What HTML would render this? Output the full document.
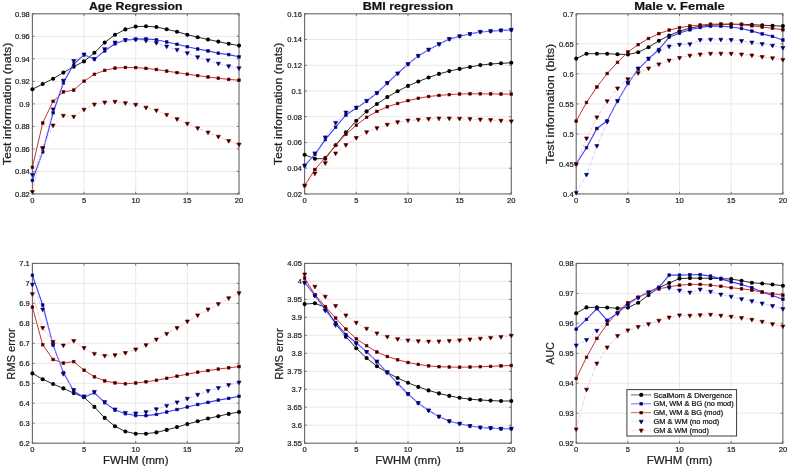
<!DOCTYPE html><html><head><meta charset="utf-8"><title>fig</title><style>html,body{margin:0;padding:0;background:#fff}svg{display:block;will-change:transform}text{font-family:"Liberation Sans",sans-serif;stroke:#222;stroke-width:0.22px}</style></head><body>
<svg width="789" height="468" viewBox="0 0 789 468">
<rect width="789" height="468" fill="#fff"/>
<g>
<line x1="84.0" y1="13.8" x2="84.0" y2="193.95" stroke="#e6e6e6" stroke-width="0.9"/>
<line x1="135.7" y1="13.8" x2="135.7" y2="193.95" stroke="#e6e6e6" stroke-width="0.9"/>
<line x1="187.3" y1="13.8" x2="187.3" y2="193.95" stroke="#e6e6e6" stroke-width="0.9"/>
<line x1="32.4" y1="36.3" x2="239.0" y2="36.3" stroke="#e6e6e6" stroke-width="0.9"/>
<line x1="32.4" y1="58.8" x2="239.0" y2="58.8" stroke="#e6e6e6" stroke-width="0.9"/>
<line x1="32.4" y1="81.4" x2="239.0" y2="81.4" stroke="#e6e6e6" stroke-width="0.9"/>
<line x1="32.4" y1="103.9" x2="239.0" y2="103.9" stroke="#e6e6e6" stroke-width="0.9"/>
<line x1="32.4" y1="126.4" x2="239.0" y2="126.4" stroke="#e6e6e6" stroke-width="0.9"/>
<line x1="32.4" y1="148.9" x2="239.0" y2="148.9" stroke="#e6e6e6" stroke-width="0.9"/>
<line x1="32.4" y1="171.4" x2="239.0" y2="171.4" stroke="#e6e6e6" stroke-width="0.9"/>
<line x1="32.4" y1="193.95" x2="32.4" y2="191.75" stroke="#666666" stroke-width="0.9"/>
<line x1="32.4" y1="13.8" x2="32.4" y2="16.0" stroke="#666666" stroke-width="0.9"/>
<line x1="84.0" y1="193.95" x2="84.0" y2="191.75" stroke="#666666" stroke-width="0.9"/>
<line x1="84.0" y1="13.8" x2="84.0" y2="16.0" stroke="#666666" stroke-width="0.9"/>
<line x1="135.7" y1="193.95" x2="135.7" y2="191.75" stroke="#666666" stroke-width="0.9"/>
<line x1="135.7" y1="13.8" x2="135.7" y2="16.0" stroke="#666666" stroke-width="0.9"/>
<line x1="187.3" y1="193.95" x2="187.3" y2="191.75" stroke="#666666" stroke-width="0.9"/>
<line x1="187.3" y1="13.8" x2="187.3" y2="16.0" stroke="#666666" stroke-width="0.9"/>
<line x1="239.0" y1="193.95" x2="239.0" y2="191.75" stroke="#666666" stroke-width="0.9"/>
<line x1="239.0" y1="13.8" x2="239.0" y2="16.0" stroke="#666666" stroke-width="0.9"/>
<line x1="32.4" y1="13.8" x2="34.6" y2="13.8" stroke="#666666" stroke-width="0.9"/>
<line x1="239.0" y1="13.8" x2="236.8" y2="13.8" stroke="#666666" stroke-width="0.9"/>
<line x1="32.4" y1="36.3" x2="34.6" y2="36.3" stroke="#666666" stroke-width="0.9"/>
<line x1="239.0" y1="36.3" x2="236.8" y2="36.3" stroke="#666666" stroke-width="0.9"/>
<line x1="32.4" y1="58.8" x2="34.6" y2="58.8" stroke="#666666" stroke-width="0.9"/>
<line x1="239.0" y1="58.8" x2="236.8" y2="58.8" stroke="#666666" stroke-width="0.9"/>
<line x1="32.4" y1="81.4" x2="34.6" y2="81.4" stroke="#666666" stroke-width="0.9"/>
<line x1="239.0" y1="81.4" x2="236.8" y2="81.4" stroke="#666666" stroke-width="0.9"/>
<line x1="32.4" y1="103.9" x2="34.6" y2="103.9" stroke="#666666" stroke-width="0.9"/>
<line x1="239.0" y1="103.9" x2="236.8" y2="103.9" stroke="#666666" stroke-width="0.9"/>
<line x1="32.4" y1="126.4" x2="34.6" y2="126.4" stroke="#666666" stroke-width="0.9"/>
<line x1="239.0" y1="126.4" x2="236.8" y2="126.4" stroke="#666666" stroke-width="0.9"/>
<line x1="32.4" y1="148.9" x2="34.6" y2="148.9" stroke="#666666" stroke-width="0.9"/>
<line x1="239.0" y1="148.9" x2="236.8" y2="148.9" stroke="#666666" stroke-width="0.9"/>
<line x1="32.4" y1="171.4" x2="34.6" y2="171.4" stroke="#666666" stroke-width="0.9"/>
<line x1="239.0" y1="171.4" x2="236.8" y2="171.4" stroke="#666666" stroke-width="0.9"/>
<line x1="32.4" y1="193.9" x2="34.6" y2="193.9" stroke="#666666" stroke-width="0.9"/>
<line x1="239.0" y1="193.9" x2="236.8" y2="193.9" stroke="#666666" stroke-width="0.9"/>
<rect x="32.4" y="13.8" width="206.60" height="180.15" fill="none" stroke="#666666" stroke-width="1.1"/>
<polyline points="32.4,89.3 42.7,84.0 53.1,78.7 63.4,72.6 73.7,66.7 84.0,61.4 94.4,52.8 104.7,42.6 115.0,34.7 125.4,29.4 135.7,26.6 146.0,26.3 156.4,27.0 166.7,29.3 177.0,31.7 187.3,34.7 197.7,37.2 208.0,39.5 218.3,41.6 228.7,43.8 239.0,45.6" fill="none" stroke="#2b2b2b" stroke-width="1.0" stroke-linejoin="round"/>
<circle cx="32.4" cy="89.3" r="2.05" fill="#000"/>
<circle cx="42.7" cy="84.0" r="2.05" fill="#000"/>
<circle cx="53.1" cy="78.7" r="2.05" fill="#000"/>
<circle cx="63.4" cy="72.6" r="2.05" fill="#000"/>
<circle cx="73.7" cy="66.7" r="2.05" fill="#000"/>
<circle cx="84.0" cy="61.4" r="2.05" fill="#000"/>
<circle cx="94.4" cy="52.8" r="2.05" fill="#000"/>
<circle cx="104.7" cy="42.6" r="2.05" fill="#000"/>
<circle cx="115.0" cy="34.7" r="2.05" fill="#000"/>
<circle cx="125.4" cy="29.4" r="2.05" fill="#000"/>
<circle cx="135.7" cy="26.6" r="2.05" fill="#000"/>
<circle cx="146.0" cy="26.3" r="2.05" fill="#000"/>
<circle cx="156.4" cy="27.0" r="2.05" fill="#000"/>
<circle cx="166.7" cy="29.3" r="2.05" fill="#000"/>
<circle cx="177.0" cy="31.7" r="2.05" fill="#000"/>
<circle cx="187.3" cy="34.7" r="2.05" fill="#000"/>
<circle cx="197.7" cy="37.2" r="2.05" fill="#000"/>
<circle cx="208.0" cy="39.5" r="2.05" fill="#000"/>
<circle cx="218.3" cy="41.6" r="2.05" fill="#000"/>
<circle cx="228.7" cy="43.8" r="2.05" fill="#000"/>
<circle cx="239.0" cy="45.6" r="2.05" fill="#000"/>
<polyline points="32.4,180.4 42.7,151.9 53.1,112.8 63.4,82.9 73.7,64.0 84.0,54.8 94.4,59.1 104.7,50.9 115.0,43.8 125.4,40.1 135.7,39.1 146.0,38.9 156.4,39.8 166.7,42.0 177.0,44.3 187.3,46.7 197.7,49.0 208.0,50.9 218.3,53.2 228.7,54.6 239.0,56.8" fill="none" stroke="#3a3aff" stroke-width="1.1" stroke-linejoin="round"/>
<rect x="31.1" y="179.1" width="2.6" height="2.6" fill="#000" stroke="#1010c0" stroke-width="0.7"/>
<rect x="41.4" y="150.6" width="2.6" height="2.6" fill="#000" stroke="#1010c0" stroke-width="0.7"/>
<rect x="51.8" y="111.5" width="2.6" height="2.6" fill="#000" stroke="#1010c0" stroke-width="0.7"/>
<rect x="62.1" y="81.6" width="2.6" height="2.6" fill="#000" stroke="#1010c0" stroke-width="0.7"/>
<rect x="72.4" y="62.7" width="2.6" height="2.6" fill="#000" stroke="#1010c0" stroke-width="0.7"/>
<rect x="82.8" y="53.5" width="2.6" height="2.6" fill="#000" stroke="#1010c0" stroke-width="0.7"/>
<rect x="93.1" y="57.8" width="2.6" height="2.6" fill="#000" stroke="#1010c0" stroke-width="0.7"/>
<rect x="103.4" y="49.6" width="2.6" height="2.6" fill="#000" stroke="#1010c0" stroke-width="0.7"/>
<rect x="113.7" y="42.5" width="2.6" height="2.6" fill="#000" stroke="#1010c0" stroke-width="0.7"/>
<rect x="124.1" y="38.8" width="2.6" height="2.6" fill="#000" stroke="#1010c0" stroke-width="0.7"/>
<rect x="134.4" y="37.8" width="2.6" height="2.6" fill="#000" stroke="#1010c0" stroke-width="0.7"/>
<rect x="144.7" y="37.6" width="2.6" height="2.6" fill="#000" stroke="#1010c0" stroke-width="0.7"/>
<rect x="155.1" y="38.5" width="2.6" height="2.6" fill="#000" stroke="#1010c0" stroke-width="0.7"/>
<rect x="165.4" y="40.7" width="2.6" height="2.6" fill="#000" stroke="#1010c0" stroke-width="0.7"/>
<rect x="175.7" y="43.0" width="2.6" height="2.6" fill="#000" stroke="#1010c0" stroke-width="0.7"/>
<rect x="186.0" y="45.4" width="2.6" height="2.6" fill="#000" stroke="#1010c0" stroke-width="0.7"/>
<rect x="196.4" y="47.7" width="2.6" height="2.6" fill="#000" stroke="#1010c0" stroke-width="0.7"/>
<rect x="206.7" y="49.6" width="2.6" height="2.6" fill="#000" stroke="#1010c0" stroke-width="0.7"/>
<rect x="217.0" y="51.9" width="2.6" height="2.6" fill="#000" stroke="#1010c0" stroke-width="0.7"/>
<rect x="227.4" y="53.3" width="2.6" height="2.6" fill="#000" stroke="#1010c0" stroke-width="0.7"/>
<rect x="237.7" y="55.5" width="2.6" height="2.6" fill="#000" stroke="#1010c0" stroke-width="0.7"/>
<polyline points="32.4,167.3 42.7,123.0 53.1,101.3 63.4,91.9 73.7,90.1 84.0,81.2 94.4,74.3 104.7,70.4 115.0,68.1 125.4,67.5 135.7,67.6 146.0,68.4 156.4,69.5 166.7,71.1 177.0,72.6 187.3,74.2 197.7,75.6 208.0,77.0 218.3,78.2 228.7,79.4 239.0,80.2" fill="none" stroke="#c83232" stroke-width="1.0" stroke-linejoin="round"/>
<rect x="31.1" y="166.0" width="2.6" height="2.6" fill="#000" stroke="#900000" stroke-width="0.7"/>
<rect x="41.4" y="121.7" width="2.6" height="2.6" fill="#000" stroke="#900000" stroke-width="0.7"/>
<rect x="51.8" y="100.0" width="2.6" height="2.6" fill="#000" stroke="#900000" stroke-width="0.7"/>
<rect x="62.1" y="90.6" width="2.6" height="2.6" fill="#000" stroke="#900000" stroke-width="0.7"/>
<rect x="72.4" y="88.8" width="2.6" height="2.6" fill="#000" stroke="#900000" stroke-width="0.7"/>
<rect x="82.8" y="79.9" width="2.6" height="2.6" fill="#000" stroke="#900000" stroke-width="0.7"/>
<rect x="93.1" y="73.0" width="2.6" height="2.6" fill="#000" stroke="#900000" stroke-width="0.7"/>
<rect x="103.4" y="69.1" width="2.6" height="2.6" fill="#000" stroke="#900000" stroke-width="0.7"/>
<rect x="113.7" y="66.8" width="2.6" height="2.6" fill="#000" stroke="#900000" stroke-width="0.7"/>
<rect x="124.1" y="66.2" width="2.6" height="2.6" fill="#000" stroke="#900000" stroke-width="0.7"/>
<rect x="134.4" y="66.3" width="2.6" height="2.6" fill="#000" stroke="#900000" stroke-width="0.7"/>
<rect x="144.7" y="67.1" width="2.6" height="2.6" fill="#000" stroke="#900000" stroke-width="0.7"/>
<rect x="155.1" y="68.2" width="2.6" height="2.6" fill="#000" stroke="#900000" stroke-width="0.7"/>
<rect x="165.4" y="69.8" width="2.6" height="2.6" fill="#000" stroke="#900000" stroke-width="0.7"/>
<rect x="175.7" y="71.3" width="2.6" height="2.6" fill="#000" stroke="#900000" stroke-width="0.7"/>
<rect x="186.0" y="72.9" width="2.6" height="2.6" fill="#000" stroke="#900000" stroke-width="0.7"/>
<rect x="196.4" y="74.3" width="2.6" height="2.6" fill="#000" stroke="#900000" stroke-width="0.7"/>
<rect x="206.7" y="75.7" width="2.6" height="2.6" fill="#000" stroke="#900000" stroke-width="0.7"/>
<rect x="217.0" y="76.9" width="2.6" height="2.6" fill="#000" stroke="#900000" stroke-width="0.7"/>
<rect x="227.4" y="78.1" width="2.6" height="2.6" fill="#000" stroke="#900000" stroke-width="0.7"/>
<rect x="237.7" y="78.9" width="2.6" height="2.6" fill="#000" stroke="#900000" stroke-width="0.7"/>
<polyline points="32.4,174.9 42.7,148.5 53.1,109.5 63.4,80.7 73.7,61.0 84.0,54.5 94.4,59.1 104.7,49.2 115.0,42.6 125.4,40.1 135.7,39.8 146.0,40.8 156.4,43.0 166.7,46.6 177.0,49.9 187.3,53.2 197.7,57.3 208.0,60.4 218.3,63.7 228.7,66.3 239.0,68.3" fill="none" stroke="#b8b8ff" stroke-width="0.75" stroke-dasharray="3 1.2 0.8 1.2" stroke-linejoin="round"/>
<path d="M30.3 173.4H34.4L32.4 177.1Z" fill="#000" stroke="#1010c0" stroke-width="0.7" stroke-linejoin="round"/>
<path d="M40.7 147.0H44.8L42.7 150.7Z" fill="#000" stroke="#1010c0" stroke-width="0.7" stroke-linejoin="round"/>
<path d="M51.0 108.0H55.1L53.1 111.7Z" fill="#000" stroke="#1010c0" stroke-width="0.7" stroke-linejoin="round"/>
<path d="M61.3 79.2H65.4L63.4 82.9Z" fill="#000" stroke="#1010c0" stroke-width="0.7" stroke-linejoin="round"/>
<path d="M71.7 59.5H75.8L73.7 63.2Z" fill="#000" stroke="#1010c0" stroke-width="0.7" stroke-linejoin="round"/>
<path d="M82.0 53.0H86.1L84.0 56.7Z" fill="#000" stroke="#1010c0" stroke-width="0.7" stroke-linejoin="round"/>
<path d="M92.3 57.6H96.4L94.4 61.3Z" fill="#000" stroke="#1010c0" stroke-width="0.7" stroke-linejoin="round"/>
<path d="M102.7 47.7H106.8L104.7 51.4Z" fill="#000" stroke="#1010c0" stroke-width="0.7" stroke-linejoin="round"/>
<path d="M113.0 41.1H117.1L115.0 44.8Z" fill="#000" stroke="#1010c0" stroke-width="0.7" stroke-linejoin="round"/>
<path d="M123.3 38.6H127.4L125.4 42.3Z" fill="#000" stroke="#1010c0" stroke-width="0.7" stroke-linejoin="round"/>
<path d="M133.6 38.3H137.8L135.7 42.0Z" fill="#000" stroke="#1010c0" stroke-width="0.7" stroke-linejoin="round"/>
<path d="M144.0 39.3H148.1L146.0 43.0Z" fill="#000" stroke="#1010c0" stroke-width="0.7" stroke-linejoin="round"/>
<path d="M154.3 41.5H158.4L156.4 45.2Z" fill="#000" stroke="#1010c0" stroke-width="0.7" stroke-linejoin="round"/>
<path d="M164.6 45.1H168.7L166.7 48.8Z" fill="#000" stroke="#1010c0" stroke-width="0.7" stroke-linejoin="round"/>
<path d="M175.0 48.4H179.1L177.0 52.1Z" fill="#000" stroke="#1010c0" stroke-width="0.7" stroke-linejoin="round"/>
<path d="M185.3 51.7H189.4L187.3 55.4Z" fill="#000" stroke="#1010c0" stroke-width="0.7" stroke-linejoin="round"/>
<path d="M195.6 55.8H199.7L197.7 59.5Z" fill="#000" stroke="#1010c0" stroke-width="0.7" stroke-linejoin="round"/>
<path d="M206.0 58.9H210.1L208.0 62.6Z" fill="#000" stroke="#1010c0" stroke-width="0.7" stroke-linejoin="round"/>
<path d="M216.3 62.2H220.4L218.3 65.9Z" fill="#000" stroke="#1010c0" stroke-width="0.7" stroke-linejoin="round"/>
<path d="M226.6 64.8H230.7L228.7 68.5Z" fill="#000" stroke="#1010c0" stroke-width="0.7" stroke-linejoin="round"/>
<path d="M236.9 66.8H241.1L239.0 70.5Z" fill="#000" stroke="#1010c0" stroke-width="0.7" stroke-linejoin="round"/>
<polyline points="32.4,192.0 42.7,148.1 53.1,125.6 63.4,115.8 73.7,116.8 84.0,109.7 94.4,104.6 104.7,102.5 115.0,101.8 125.4,103.2 135.7,104.8 146.0,107.7 156.4,110.6 166.7,114.9 177.0,119.2 187.3,123.8 197.7,128.3 208.0,132.6 218.3,136.8 228.7,141.0 239.0,144.6" fill="none" stroke="#efb0b0" stroke-width="0.75" stroke-dasharray="3 1.2 0.8 1.2" stroke-linejoin="round"/>
<path d="M30.3 190.5H34.4L32.4 194.2Z" fill="#000" stroke="#900000" stroke-width="0.7" stroke-linejoin="round"/>
<path d="M40.7 146.6H44.8L42.7 150.3Z" fill="#000" stroke="#900000" stroke-width="0.7" stroke-linejoin="round"/>
<path d="M51.0 124.1H55.1L53.1 127.8Z" fill="#000" stroke="#900000" stroke-width="0.7" stroke-linejoin="round"/>
<path d="M61.3 114.3H65.4L63.4 118.0Z" fill="#000" stroke="#900000" stroke-width="0.7" stroke-linejoin="round"/>
<path d="M71.7 115.3H75.8L73.7 119.0Z" fill="#000" stroke="#900000" stroke-width="0.7" stroke-linejoin="round"/>
<path d="M82.0 108.2H86.1L84.0 111.9Z" fill="#000" stroke="#900000" stroke-width="0.7" stroke-linejoin="round"/>
<path d="M92.3 103.1H96.4L94.4 106.8Z" fill="#000" stroke="#900000" stroke-width="0.7" stroke-linejoin="round"/>
<path d="M102.7 101.0H106.8L104.7 104.7Z" fill="#000" stroke="#900000" stroke-width="0.7" stroke-linejoin="round"/>
<path d="M113.0 100.3H117.1L115.0 104.0Z" fill="#000" stroke="#900000" stroke-width="0.7" stroke-linejoin="round"/>
<path d="M123.3 101.7H127.4L125.4 105.4Z" fill="#000" stroke="#900000" stroke-width="0.7" stroke-linejoin="round"/>
<path d="M133.6 103.3H137.8L135.7 107.0Z" fill="#000" stroke="#900000" stroke-width="0.7" stroke-linejoin="round"/>
<path d="M144.0 106.2H148.1L146.0 109.9Z" fill="#000" stroke="#900000" stroke-width="0.7" stroke-linejoin="round"/>
<path d="M154.3 109.1H158.4L156.4 112.8Z" fill="#000" stroke="#900000" stroke-width="0.7" stroke-linejoin="round"/>
<path d="M164.6 113.4H168.7L166.7 117.1Z" fill="#000" stroke="#900000" stroke-width="0.7" stroke-linejoin="round"/>
<path d="M175.0 117.7H179.1L177.0 121.4Z" fill="#000" stroke="#900000" stroke-width="0.7" stroke-linejoin="round"/>
<path d="M185.3 122.3H189.4L187.3 126.0Z" fill="#000" stroke="#900000" stroke-width="0.7" stroke-linejoin="round"/>
<path d="M195.6 126.8H199.7L197.7 130.5Z" fill="#000" stroke="#900000" stroke-width="0.7" stroke-linejoin="round"/>
<path d="M206.0 131.1H210.1L208.0 134.8Z" fill="#000" stroke="#900000" stroke-width="0.7" stroke-linejoin="round"/>
<path d="M216.3 135.3H220.4L218.3 139.0Z" fill="#000" stroke="#900000" stroke-width="0.7" stroke-linejoin="round"/>
<path d="M226.6 139.5H230.7L228.7 143.2Z" fill="#000" stroke="#900000" stroke-width="0.7" stroke-linejoin="round"/>
<path d="M236.9 143.1H241.1L239.0 146.8Z" fill="#000" stroke="#900000" stroke-width="0.7" stroke-linejoin="round"/>
<text x="29.8" y="16.7" font-size="7.6" text-anchor="end" fill="#1c1c1c" textLength="14.7" lengthAdjust="spacingAndGlyphs">0.98</text>
<text x="29.8" y="39.2" font-size="7.6" text-anchor="end" fill="#1c1c1c" textLength="14.7" lengthAdjust="spacingAndGlyphs">0.96</text>
<text x="29.8" y="61.7" font-size="7.6" text-anchor="end" fill="#1c1c1c" textLength="14.7" lengthAdjust="spacingAndGlyphs">0.94</text>
<text x="29.8" y="84.3" font-size="7.6" text-anchor="end" fill="#1c1c1c" textLength="14.7" lengthAdjust="spacingAndGlyphs">0.92</text>
<text x="29.8" y="106.8" font-size="7.6" text-anchor="end" fill="#1c1c1c" textLength="10.5" lengthAdjust="spacingAndGlyphs">0.9</text>
<text x="29.8" y="129.3" font-size="7.6" text-anchor="end" fill="#1c1c1c" textLength="14.7" lengthAdjust="spacingAndGlyphs">0.88</text>
<text x="29.8" y="151.8" font-size="7.6" text-anchor="end" fill="#1c1c1c" textLength="14.7" lengthAdjust="spacingAndGlyphs">0.86</text>
<text x="29.8" y="174.3" font-size="7.6" text-anchor="end" fill="#1c1c1c" textLength="14.7" lengthAdjust="spacingAndGlyphs">0.84</text>
<text x="29.8" y="196.8" font-size="7.6" text-anchor="end" fill="#1c1c1c" textLength="14.7" lengthAdjust="spacingAndGlyphs">0.82</text>
<text x="32.4" y="203.1" font-size="7.6" text-anchor="middle" fill="#1c1c1c" textLength="4.2" lengthAdjust="spacingAndGlyphs">0</text>
<text x="84.0" y="203.1" font-size="7.6" text-anchor="middle" fill="#1c1c1c" textLength="4.2" lengthAdjust="spacingAndGlyphs">5</text>
<text x="135.7" y="203.1" font-size="7.6" text-anchor="middle" fill="#1c1c1c" textLength="8.4" lengthAdjust="spacingAndGlyphs">10</text>
<text x="187.3" y="203.1" font-size="7.6" text-anchor="middle" fill="#1c1c1c" textLength="8.4" lengthAdjust="spacingAndGlyphs">15</text>
<text x="239.0" y="203.1" font-size="7.6" text-anchor="middle" fill="#1c1c1c" textLength="8.4" lengthAdjust="spacingAndGlyphs">20</text>
<text transform="translate(10.5,103.9) rotate(-90)" font-size="11.2" text-anchor="middle" fill="#1c1c1c" textLength="122.6" lengthAdjust="spacingAndGlyphs">Test information (nats)</text>
<text x="135.7" y="9.9" font-size="10.6" font-weight="bold" text-anchor="middle" fill="#111" textLength="93.4" lengthAdjust="spacingAndGlyphs">Age Regression</text>
</g>
<g>
<line x1="356.3" y1="13.8" x2="356.3" y2="193.95" stroke="#e6e6e6" stroke-width="0.9"/>
<line x1="408.0" y1="13.8" x2="408.0" y2="193.95" stroke="#e6e6e6" stroke-width="0.9"/>
<line x1="459.6" y1="13.8" x2="459.6" y2="193.95" stroke="#e6e6e6" stroke-width="0.9"/>
<line x1="304.6" y1="39.5" x2="511.3" y2="39.5" stroke="#e6e6e6" stroke-width="0.9"/>
<line x1="304.6" y1="65.3" x2="511.3" y2="65.3" stroke="#e6e6e6" stroke-width="0.9"/>
<line x1="304.6" y1="91.0" x2="511.3" y2="91.0" stroke="#e6e6e6" stroke-width="0.9"/>
<line x1="304.6" y1="116.7" x2="511.3" y2="116.7" stroke="#e6e6e6" stroke-width="0.9"/>
<line x1="304.6" y1="142.5" x2="511.3" y2="142.5" stroke="#e6e6e6" stroke-width="0.9"/>
<line x1="304.6" y1="168.2" x2="511.3" y2="168.2" stroke="#e6e6e6" stroke-width="0.9"/>
<line x1="304.6" y1="193.95" x2="304.6" y2="191.75" stroke="#666666" stroke-width="0.9"/>
<line x1="304.6" y1="13.8" x2="304.6" y2="16.0" stroke="#666666" stroke-width="0.9"/>
<line x1="356.3" y1="193.95" x2="356.3" y2="191.75" stroke="#666666" stroke-width="0.9"/>
<line x1="356.3" y1="13.8" x2="356.3" y2="16.0" stroke="#666666" stroke-width="0.9"/>
<line x1="408.0" y1="193.95" x2="408.0" y2="191.75" stroke="#666666" stroke-width="0.9"/>
<line x1="408.0" y1="13.8" x2="408.0" y2="16.0" stroke="#666666" stroke-width="0.9"/>
<line x1="459.6" y1="193.95" x2="459.6" y2="191.75" stroke="#666666" stroke-width="0.9"/>
<line x1="459.6" y1="13.8" x2="459.6" y2="16.0" stroke="#666666" stroke-width="0.9"/>
<line x1="511.3" y1="193.95" x2="511.3" y2="191.75" stroke="#666666" stroke-width="0.9"/>
<line x1="511.3" y1="13.8" x2="511.3" y2="16.0" stroke="#666666" stroke-width="0.9"/>
<line x1="304.6" y1="13.8" x2="306.8" y2="13.8" stroke="#666666" stroke-width="0.9"/>
<line x1="511.3" y1="13.8" x2="509.1" y2="13.8" stroke="#666666" stroke-width="0.9"/>
<line x1="304.6" y1="39.5" x2="306.8" y2="39.5" stroke="#666666" stroke-width="0.9"/>
<line x1="511.3" y1="39.5" x2="509.1" y2="39.5" stroke="#666666" stroke-width="0.9"/>
<line x1="304.6" y1="65.3" x2="306.8" y2="65.3" stroke="#666666" stroke-width="0.9"/>
<line x1="511.3" y1="65.3" x2="509.1" y2="65.3" stroke="#666666" stroke-width="0.9"/>
<line x1="304.6" y1="91.0" x2="306.8" y2="91.0" stroke="#666666" stroke-width="0.9"/>
<line x1="511.3" y1="91.0" x2="509.1" y2="91.0" stroke="#666666" stroke-width="0.9"/>
<line x1="304.6" y1="116.7" x2="306.8" y2="116.7" stroke="#666666" stroke-width="0.9"/>
<line x1="511.3" y1="116.7" x2="509.1" y2="116.7" stroke="#666666" stroke-width="0.9"/>
<line x1="304.6" y1="142.5" x2="306.8" y2="142.5" stroke="#666666" stroke-width="0.9"/>
<line x1="511.3" y1="142.5" x2="509.1" y2="142.5" stroke="#666666" stroke-width="0.9"/>
<line x1="304.6" y1="168.2" x2="306.8" y2="168.2" stroke="#666666" stroke-width="0.9"/>
<line x1="511.3" y1="168.2" x2="509.1" y2="168.2" stroke="#666666" stroke-width="0.9"/>
<line x1="304.6" y1="193.9" x2="306.8" y2="193.9" stroke="#666666" stroke-width="0.9"/>
<line x1="511.3" y1="193.9" x2="509.1" y2="193.9" stroke="#666666" stroke-width="0.9"/>
<rect x="304.6" y="13.8" width="206.70" height="180.15" fill="none" stroke="#666666" stroke-width="1.1"/>
<polyline points="304.6,154.8 314.9,158.7 325.3,158.7 335.6,145.3 345.9,132.4 356.3,120.8 366.6,111.4 376.9,104.0 387.3,97.1 397.6,91.2 408.0,85.9 418.3,81.5 428.6,77.5 439.0,73.9 449.3,71.1 459.6,68.9 470.0,67.0 480.3,65.1 490.6,64.0 501.0,63.3 511.3,62.8" fill="none" stroke="#2b2b2b" stroke-width="1.0" stroke-linejoin="round"/>
<circle cx="304.6" cy="154.8" r="2.05" fill="#000"/>
<circle cx="314.9" cy="158.7" r="2.05" fill="#000"/>
<circle cx="325.3" cy="158.7" r="2.05" fill="#000"/>
<circle cx="335.6" cy="145.3" r="2.05" fill="#000"/>
<circle cx="345.9" cy="132.4" r="2.05" fill="#000"/>
<circle cx="356.3" cy="120.8" r="2.05" fill="#000"/>
<circle cx="366.6" cy="111.4" r="2.05" fill="#000"/>
<circle cx="376.9" cy="104.0" r="2.05" fill="#000"/>
<circle cx="387.3" cy="97.1" r="2.05" fill="#000"/>
<circle cx="397.6" cy="91.2" r="2.05" fill="#000"/>
<circle cx="408.0" cy="85.9" r="2.05" fill="#000"/>
<circle cx="418.3" cy="81.5" r="2.05" fill="#000"/>
<circle cx="428.6" cy="77.5" r="2.05" fill="#000"/>
<circle cx="439.0" cy="73.9" r="2.05" fill="#000"/>
<circle cx="449.3" cy="71.1" r="2.05" fill="#000"/>
<circle cx="459.6" cy="68.9" r="2.05" fill="#000"/>
<circle cx="470.0" cy="67.0" r="2.05" fill="#000"/>
<circle cx="480.3" cy="65.1" r="2.05" fill="#000"/>
<circle cx="490.6" cy="64.0" r="2.05" fill="#000"/>
<circle cx="501.0" cy="63.3" r="2.05" fill="#000"/>
<circle cx="511.3" cy="62.8" r="2.05" fill="#000"/>
<polyline points="304.6,165.7 314.9,154.5 325.3,139.6 335.6,127.2 345.9,115.0 356.3,108.1 366.6,101.2 376.9,93.0 387.3,83.1 397.6,73.5 408.0,64.2 418.3,55.9 428.6,49.7 439.0,44.2 449.3,39.1 459.6,36.3 470.0,34.0 480.3,31.9 490.6,31.2 501.0,30.4 511.3,29.9" fill="none" stroke="#3a3aff" stroke-width="1.1" stroke-linejoin="round"/>
<rect x="303.3" y="164.4" width="2.6" height="2.6" fill="#000" stroke="#1010c0" stroke-width="0.7"/>
<rect x="313.6" y="153.2" width="2.6" height="2.6" fill="#000" stroke="#1010c0" stroke-width="0.7"/>
<rect x="324.0" y="138.3" width="2.6" height="2.6" fill="#000" stroke="#1010c0" stroke-width="0.7"/>
<rect x="334.3" y="125.9" width="2.6" height="2.6" fill="#000" stroke="#1010c0" stroke-width="0.7"/>
<rect x="344.6" y="113.7" width="2.6" height="2.6" fill="#000" stroke="#1010c0" stroke-width="0.7"/>
<rect x="355.0" y="106.8" width="2.6" height="2.6" fill="#000" stroke="#1010c0" stroke-width="0.7"/>
<rect x="365.3" y="99.9" width="2.6" height="2.6" fill="#000" stroke="#1010c0" stroke-width="0.7"/>
<rect x="375.6" y="91.7" width="2.6" height="2.6" fill="#000" stroke="#1010c0" stroke-width="0.7"/>
<rect x="386.0" y="81.8" width="2.6" height="2.6" fill="#000" stroke="#1010c0" stroke-width="0.7"/>
<rect x="396.3" y="72.2" width="2.6" height="2.6" fill="#000" stroke="#1010c0" stroke-width="0.7"/>
<rect x="406.7" y="62.9" width="2.6" height="2.6" fill="#000" stroke="#1010c0" stroke-width="0.7"/>
<rect x="417.0" y="54.6" width="2.6" height="2.6" fill="#000" stroke="#1010c0" stroke-width="0.7"/>
<rect x="427.3" y="48.4" width="2.6" height="2.6" fill="#000" stroke="#1010c0" stroke-width="0.7"/>
<rect x="437.7" y="42.9" width="2.6" height="2.6" fill="#000" stroke="#1010c0" stroke-width="0.7"/>
<rect x="448.0" y="37.8" width="2.6" height="2.6" fill="#000" stroke="#1010c0" stroke-width="0.7"/>
<rect x="458.3" y="35.0" width="2.6" height="2.6" fill="#000" stroke="#1010c0" stroke-width="0.7"/>
<rect x="468.7" y="32.7" width="2.6" height="2.6" fill="#000" stroke="#1010c0" stroke-width="0.7"/>
<rect x="479.0" y="30.6" width="2.6" height="2.6" fill="#000" stroke="#1010c0" stroke-width="0.7"/>
<rect x="489.3" y="29.9" width="2.6" height="2.6" fill="#000" stroke="#1010c0" stroke-width="0.7"/>
<rect x="499.7" y="29.1" width="2.6" height="2.6" fill="#000" stroke="#1010c0" stroke-width="0.7"/>
<rect x="510.0" y="28.6" width="2.6" height="2.6" fill="#000" stroke="#1010c0" stroke-width="0.7"/>
<polyline points="304.6,185.6 314.9,169.5 325.3,157.6 335.6,145.3 345.9,134.3 356.3,125.2 366.6,117.3 376.9,111.4 387.3,106.8 397.6,103.5 408.0,100.6 418.3,98.3 428.6,96.5 439.0,95.4 449.3,94.6 459.6,94.0 470.0,93.8 480.3,93.8 490.6,93.9 501.0,94.0 511.3,94.1" fill="none" stroke="#c83232" stroke-width="1.0" stroke-linejoin="round"/>
<rect x="303.3" y="184.3" width="2.6" height="2.6" fill="#000" stroke="#900000" stroke-width="0.7"/>
<rect x="313.6" y="168.2" width="2.6" height="2.6" fill="#000" stroke="#900000" stroke-width="0.7"/>
<rect x="324.0" y="156.3" width="2.6" height="2.6" fill="#000" stroke="#900000" stroke-width="0.7"/>
<rect x="334.3" y="144.0" width="2.6" height="2.6" fill="#000" stroke="#900000" stroke-width="0.7"/>
<rect x="344.6" y="133.0" width="2.6" height="2.6" fill="#000" stroke="#900000" stroke-width="0.7"/>
<rect x="355.0" y="123.9" width="2.6" height="2.6" fill="#000" stroke="#900000" stroke-width="0.7"/>
<rect x="365.3" y="116.0" width="2.6" height="2.6" fill="#000" stroke="#900000" stroke-width="0.7"/>
<rect x="375.6" y="110.1" width="2.6" height="2.6" fill="#000" stroke="#900000" stroke-width="0.7"/>
<rect x="386.0" y="105.5" width="2.6" height="2.6" fill="#000" stroke="#900000" stroke-width="0.7"/>
<rect x="396.3" y="102.2" width="2.6" height="2.6" fill="#000" stroke="#900000" stroke-width="0.7"/>
<rect x="406.7" y="99.3" width="2.6" height="2.6" fill="#000" stroke="#900000" stroke-width="0.7"/>
<rect x="417.0" y="97.0" width="2.6" height="2.6" fill="#000" stroke="#900000" stroke-width="0.7"/>
<rect x="427.3" y="95.2" width="2.6" height="2.6" fill="#000" stroke="#900000" stroke-width="0.7"/>
<rect x="437.7" y="94.1" width="2.6" height="2.6" fill="#000" stroke="#900000" stroke-width="0.7"/>
<rect x="448.0" y="93.3" width="2.6" height="2.6" fill="#000" stroke="#900000" stroke-width="0.7"/>
<rect x="458.3" y="92.7" width="2.6" height="2.6" fill="#000" stroke="#900000" stroke-width="0.7"/>
<rect x="468.7" y="92.5" width="2.6" height="2.6" fill="#000" stroke="#900000" stroke-width="0.7"/>
<rect x="479.0" y="92.5" width="2.6" height="2.6" fill="#000" stroke="#900000" stroke-width="0.7"/>
<rect x="489.3" y="92.6" width="2.6" height="2.6" fill="#000" stroke="#900000" stroke-width="0.7"/>
<rect x="499.7" y="92.7" width="2.6" height="2.6" fill="#000" stroke="#900000" stroke-width="0.7"/>
<rect x="510.0" y="92.8" width="2.6" height="2.6" fill="#000" stroke="#900000" stroke-width="0.7"/>
<polyline points="304.6,165.5 314.9,153.4 325.3,137.4 335.6,122.9 345.9,112.6 356.3,107.6 366.6,100.9 376.9,93.0 387.3,83.1 397.6,73.5 408.0,64.2 418.3,55.9 428.6,49.7 439.0,44.2 449.3,39.1 459.6,36.3 470.0,34.0 480.3,31.9 490.6,31.2 501.0,30.4 511.3,29.9" fill="none" stroke="#b8b8ff" stroke-width="0.75" stroke-dasharray="3 1.2 0.8 1.2" stroke-linejoin="round"/>
<path d="M302.6 164.0H306.7L304.6 167.7Z" fill="#000" stroke="#1010c0" stroke-width="0.7" stroke-linejoin="round"/>
<path d="M312.9 151.9H317.0L314.9 155.6Z" fill="#000" stroke="#1010c0" stroke-width="0.7" stroke-linejoin="round"/>
<path d="M323.2 135.9H327.3L325.3 139.6Z" fill="#000" stroke="#1010c0" stroke-width="0.7" stroke-linejoin="round"/>
<path d="M333.6 121.4H337.7L335.6 125.1Z" fill="#000" stroke="#1010c0" stroke-width="0.7" stroke-linejoin="round"/>
<path d="M343.9 111.1H348.0L345.9 114.8Z" fill="#000" stroke="#1010c0" stroke-width="0.7" stroke-linejoin="round"/>
<path d="M354.2 106.1H358.3L356.3 109.8Z" fill="#000" stroke="#1010c0" stroke-width="0.7" stroke-linejoin="round"/>
<path d="M364.6 99.4H368.7L366.6 103.1Z" fill="#000" stroke="#1010c0" stroke-width="0.7" stroke-linejoin="round"/>
<path d="M374.9 91.5H379.0L376.9 95.2Z" fill="#000" stroke="#1010c0" stroke-width="0.7" stroke-linejoin="round"/>
<path d="M385.2 81.6H389.3L387.3 85.3Z" fill="#000" stroke="#1010c0" stroke-width="0.7" stroke-linejoin="round"/>
<path d="M395.6 72.0H399.7L397.6 75.7Z" fill="#000" stroke="#1010c0" stroke-width="0.7" stroke-linejoin="round"/>
<path d="M405.9 62.7H410.0L408.0 66.4Z" fill="#000" stroke="#1010c0" stroke-width="0.7" stroke-linejoin="round"/>
<path d="M416.2 54.4H420.3L418.3 58.1Z" fill="#000" stroke="#1010c0" stroke-width="0.7" stroke-linejoin="round"/>
<path d="M426.6 48.2H430.7L428.6 51.9Z" fill="#000" stroke="#1010c0" stroke-width="0.7" stroke-linejoin="round"/>
<path d="M436.9 42.7H441.0L439.0 46.4Z" fill="#000" stroke="#1010c0" stroke-width="0.7" stroke-linejoin="round"/>
<path d="M447.2 37.6H451.3L449.3 41.3Z" fill="#000" stroke="#1010c0" stroke-width="0.7" stroke-linejoin="round"/>
<path d="M457.6 34.8H461.7L459.6 38.5Z" fill="#000" stroke="#1010c0" stroke-width="0.7" stroke-linejoin="round"/>
<path d="M467.9 32.5H472.0L470.0 36.2Z" fill="#000" stroke="#1010c0" stroke-width="0.7" stroke-linejoin="round"/>
<path d="M478.2 30.4H482.3L480.3 34.1Z" fill="#000" stroke="#1010c0" stroke-width="0.7" stroke-linejoin="round"/>
<path d="M488.6 29.7H492.7L490.6 33.4Z" fill="#000" stroke="#1010c0" stroke-width="0.7" stroke-linejoin="round"/>
<path d="M498.9 28.9H503.0L501.0 32.6Z" fill="#000" stroke="#1010c0" stroke-width="0.7" stroke-linejoin="round"/>
<path d="M509.2 28.4H513.4L511.3 32.1Z" fill="#000" stroke="#1010c0" stroke-width="0.7" stroke-linejoin="round"/>
<polyline points="304.6,185.6 314.9,173.6 325.3,163.2 335.6,153.5 345.9,145.1 356.3,138.0 366.6,132.3 376.9,128.2 387.3,124.8 397.6,122.3 408.0,120.6 418.3,119.8 428.6,119.0 439.0,118.6 449.3,118.6 459.6,118.8 470.0,119.1 480.3,119.6 490.6,120.1 501.0,120.7 511.3,121.4" fill="none" stroke="#efb0b0" stroke-width="0.75" stroke-dasharray="3 1.2 0.8 1.2" stroke-linejoin="round"/>
<path d="M302.6 184.1H306.7L304.6 187.8Z" fill="#000" stroke="#900000" stroke-width="0.7" stroke-linejoin="round"/>
<path d="M312.9 172.1H317.0L314.9 175.8Z" fill="#000" stroke="#900000" stroke-width="0.7" stroke-linejoin="round"/>
<path d="M323.2 161.7H327.3L325.3 165.4Z" fill="#000" stroke="#900000" stroke-width="0.7" stroke-linejoin="round"/>
<path d="M333.6 152.0H337.7L335.6 155.7Z" fill="#000" stroke="#900000" stroke-width="0.7" stroke-linejoin="round"/>
<path d="M343.9 143.6H348.0L345.9 147.3Z" fill="#000" stroke="#900000" stroke-width="0.7" stroke-linejoin="round"/>
<path d="M354.2 136.5H358.3L356.3 140.2Z" fill="#000" stroke="#900000" stroke-width="0.7" stroke-linejoin="round"/>
<path d="M364.6 130.8H368.7L366.6 134.5Z" fill="#000" stroke="#900000" stroke-width="0.7" stroke-linejoin="round"/>
<path d="M374.9 126.7H379.0L376.9 130.4Z" fill="#000" stroke="#900000" stroke-width="0.7" stroke-linejoin="round"/>
<path d="M385.2 123.3H389.3L387.3 127.0Z" fill="#000" stroke="#900000" stroke-width="0.7" stroke-linejoin="round"/>
<path d="M395.6 120.8H399.7L397.6 124.5Z" fill="#000" stroke="#900000" stroke-width="0.7" stroke-linejoin="round"/>
<path d="M405.9 119.1H410.0L408.0 122.8Z" fill="#000" stroke="#900000" stroke-width="0.7" stroke-linejoin="round"/>
<path d="M416.2 118.3H420.3L418.3 122.0Z" fill="#000" stroke="#900000" stroke-width="0.7" stroke-linejoin="round"/>
<path d="M426.6 117.5H430.7L428.6 121.2Z" fill="#000" stroke="#900000" stroke-width="0.7" stroke-linejoin="round"/>
<path d="M436.9 117.1H441.0L439.0 120.8Z" fill="#000" stroke="#900000" stroke-width="0.7" stroke-linejoin="round"/>
<path d="M447.2 117.1H451.3L449.3 120.8Z" fill="#000" stroke="#900000" stroke-width="0.7" stroke-linejoin="round"/>
<path d="M457.6 117.3H461.7L459.6 121.0Z" fill="#000" stroke="#900000" stroke-width="0.7" stroke-linejoin="round"/>
<path d="M467.9 117.6H472.0L470.0 121.3Z" fill="#000" stroke="#900000" stroke-width="0.7" stroke-linejoin="round"/>
<path d="M478.2 118.1H482.3L480.3 121.8Z" fill="#000" stroke="#900000" stroke-width="0.7" stroke-linejoin="round"/>
<path d="M488.6 118.6H492.7L490.6 122.3Z" fill="#000" stroke="#900000" stroke-width="0.7" stroke-linejoin="round"/>
<path d="M498.9 119.2H503.0L501.0 122.9Z" fill="#000" stroke="#900000" stroke-width="0.7" stroke-linejoin="round"/>
<path d="M509.2 119.9H513.4L511.3 123.6Z" fill="#000" stroke="#900000" stroke-width="0.7" stroke-linejoin="round"/>
<text x="302.0" y="16.7" font-size="7.6" text-anchor="end" fill="#1c1c1c" textLength="14.7" lengthAdjust="spacingAndGlyphs">0.16</text>
<text x="302.0" y="42.4" font-size="7.6" text-anchor="end" fill="#1c1c1c" textLength="14.7" lengthAdjust="spacingAndGlyphs">0.14</text>
<text x="302.0" y="68.2" font-size="7.6" text-anchor="end" fill="#1c1c1c" textLength="14.7" lengthAdjust="spacingAndGlyphs">0.12</text>
<text x="302.0" y="93.9" font-size="7.6" text-anchor="end" fill="#1c1c1c" textLength="10.5" lengthAdjust="spacingAndGlyphs">0.1</text>
<text x="302.0" y="119.6" font-size="7.6" text-anchor="end" fill="#1c1c1c" textLength="14.7" lengthAdjust="spacingAndGlyphs">0.08</text>
<text x="302.0" y="145.4" font-size="7.6" text-anchor="end" fill="#1c1c1c" textLength="14.7" lengthAdjust="spacingAndGlyphs">0.06</text>
<text x="302.0" y="171.1" font-size="7.6" text-anchor="end" fill="#1c1c1c" textLength="14.7" lengthAdjust="spacingAndGlyphs">0.04</text>
<text x="302.0" y="196.8" font-size="7.6" text-anchor="end" fill="#1c1c1c" textLength="14.7" lengthAdjust="spacingAndGlyphs">0.02</text>
<text x="304.6" y="203.1" font-size="7.6" text-anchor="middle" fill="#1c1c1c" textLength="4.2" lengthAdjust="spacingAndGlyphs">0</text>
<text x="356.3" y="203.1" font-size="7.6" text-anchor="middle" fill="#1c1c1c" textLength="4.2" lengthAdjust="spacingAndGlyphs">5</text>
<text x="408.0" y="203.1" font-size="7.6" text-anchor="middle" fill="#1c1c1c" textLength="8.4" lengthAdjust="spacingAndGlyphs">10</text>
<text x="459.6" y="203.1" font-size="7.6" text-anchor="middle" fill="#1c1c1c" textLength="8.4" lengthAdjust="spacingAndGlyphs">15</text>
<text x="511.3" y="203.1" font-size="7.6" text-anchor="middle" fill="#1c1c1c" textLength="8.4" lengthAdjust="spacingAndGlyphs">20</text>
<text transform="translate(282.0,103.9) rotate(-90)" font-size="11.2" text-anchor="middle" fill="#1c1c1c" textLength="122.6" lengthAdjust="spacingAndGlyphs">Test information (nats)</text>
<text x="408.0" y="9.9" font-size="10.6" font-weight="bold" text-anchor="middle" fill="#111" textLength="90.5" lengthAdjust="spacingAndGlyphs">BMI regression</text>
</g>
<g>
<line x1="627.9" y1="13.8" x2="627.9" y2="193.95" stroke="#e6e6e6" stroke-width="0.9"/>
<line x1="679.5" y1="13.8" x2="679.5" y2="193.95" stroke="#e6e6e6" stroke-width="0.9"/>
<line x1="731.2" y1="13.8" x2="731.2" y2="193.95" stroke="#e6e6e6" stroke-width="0.9"/>
<line x1="576.2" y1="43.8" x2="782.85" y2="43.8" stroke="#e6e6e6" stroke-width="0.9"/>
<line x1="576.2" y1="73.8" x2="782.85" y2="73.8" stroke="#e6e6e6" stroke-width="0.9"/>
<line x1="576.2" y1="103.9" x2="782.85" y2="103.9" stroke="#e6e6e6" stroke-width="0.9"/>
<line x1="576.2" y1="133.9" x2="782.85" y2="133.9" stroke="#e6e6e6" stroke-width="0.9"/>
<line x1="576.2" y1="163.9" x2="782.85" y2="163.9" stroke="#e6e6e6" stroke-width="0.9"/>
<line x1="576.2" y1="193.95" x2="576.2" y2="191.75" stroke="#666666" stroke-width="0.9"/>
<line x1="576.2" y1="13.8" x2="576.2" y2="16.0" stroke="#666666" stroke-width="0.9"/>
<line x1="627.9" y1="193.95" x2="627.9" y2="191.75" stroke="#666666" stroke-width="0.9"/>
<line x1="627.9" y1="13.8" x2="627.9" y2="16.0" stroke="#666666" stroke-width="0.9"/>
<line x1="679.5" y1="193.95" x2="679.5" y2="191.75" stroke="#666666" stroke-width="0.9"/>
<line x1="679.5" y1="13.8" x2="679.5" y2="16.0" stroke="#666666" stroke-width="0.9"/>
<line x1="731.2" y1="193.95" x2="731.2" y2="191.75" stroke="#666666" stroke-width="0.9"/>
<line x1="731.2" y1="13.8" x2="731.2" y2="16.0" stroke="#666666" stroke-width="0.9"/>
<line x1="782.9" y1="193.95" x2="782.9" y2="191.75" stroke="#666666" stroke-width="0.9"/>
<line x1="782.9" y1="13.8" x2="782.9" y2="16.0" stroke="#666666" stroke-width="0.9"/>
<line x1="576.2" y1="13.8" x2="578.4000000000001" y2="13.8" stroke="#666666" stroke-width="0.9"/>
<line x1="782.85" y1="13.8" x2="780.65" y2="13.8" stroke="#666666" stroke-width="0.9"/>
<line x1="576.2" y1="43.8" x2="578.4000000000001" y2="43.8" stroke="#666666" stroke-width="0.9"/>
<line x1="782.85" y1="43.8" x2="780.65" y2="43.8" stroke="#666666" stroke-width="0.9"/>
<line x1="576.2" y1="73.8" x2="578.4000000000001" y2="73.8" stroke="#666666" stroke-width="0.9"/>
<line x1="782.85" y1="73.8" x2="780.65" y2="73.8" stroke="#666666" stroke-width="0.9"/>
<line x1="576.2" y1="103.9" x2="578.4000000000001" y2="103.9" stroke="#666666" stroke-width="0.9"/>
<line x1="782.85" y1="103.9" x2="780.65" y2="103.9" stroke="#666666" stroke-width="0.9"/>
<line x1="576.2" y1="133.9" x2="578.4000000000001" y2="133.9" stroke="#666666" stroke-width="0.9"/>
<line x1="782.85" y1="133.9" x2="780.65" y2="133.9" stroke="#666666" stroke-width="0.9"/>
<line x1="576.2" y1="163.9" x2="578.4000000000001" y2="163.9" stroke="#666666" stroke-width="0.9"/>
<line x1="782.85" y1="163.9" x2="780.65" y2="163.9" stroke="#666666" stroke-width="0.9"/>
<line x1="576.2" y1="193.9" x2="578.4000000000001" y2="193.9" stroke="#666666" stroke-width="0.9"/>
<line x1="782.85" y1="193.9" x2="780.65" y2="193.9" stroke="#666666" stroke-width="0.9"/>
<rect x="576.2" y="13.8" width="206.65" height="180.15" fill="none" stroke="#666666" stroke-width="1.1"/>
<polyline points="576.2,58.6 586.5,53.7 596.9,53.7 607.2,53.7 617.5,54.2 627.9,54.5 638.2,52.3 648.5,47.2 658.9,40.8 669.2,35.5 679.5,31.2 689.9,28.1 700.2,26.3 710.5,25.0 720.9,24.5 731.2,24.2 741.5,24.3 751.9,24.7 762.2,25.2 772.5,25.7 782.9,26.1" fill="none" stroke="#2b2b2b" stroke-width="1.0" stroke-linejoin="round"/>
<circle cx="576.2" cy="58.6" r="2.05" fill="#000"/>
<circle cx="586.5" cy="53.7" r="2.05" fill="#000"/>
<circle cx="596.9" cy="53.7" r="2.05" fill="#000"/>
<circle cx="607.2" cy="53.7" r="2.05" fill="#000"/>
<circle cx="617.5" cy="54.2" r="2.05" fill="#000"/>
<circle cx="627.9" cy="54.5" r="2.05" fill="#000"/>
<circle cx="638.2" cy="52.3" r="2.05" fill="#000"/>
<circle cx="648.5" cy="47.2" r="2.05" fill="#000"/>
<circle cx="658.9" cy="40.8" r="2.05" fill="#000"/>
<circle cx="669.2" cy="35.5" r="2.05" fill="#000"/>
<circle cx="679.5" cy="31.2" r="2.05" fill="#000"/>
<circle cx="689.9" cy="28.1" r="2.05" fill="#000"/>
<circle cx="700.2" cy="26.3" r="2.05" fill="#000"/>
<circle cx="710.5" cy="25.0" r="2.05" fill="#000"/>
<circle cx="720.9" cy="24.5" r="2.05" fill="#000"/>
<circle cx="731.2" cy="24.2" r="2.05" fill="#000"/>
<circle cx="741.5" cy="24.3" r="2.05" fill="#000"/>
<circle cx="751.9" cy="24.7" r="2.05" fill="#000"/>
<circle cx="762.2" cy="25.2" r="2.05" fill="#000"/>
<circle cx="772.5" cy="25.7" r="2.05" fill="#000"/>
<circle cx="782.9" cy="26.1" r="2.05" fill="#000"/>
<polyline points="576.2,164.0 586.5,147.7 596.9,128.5 607.2,120.7 617.5,101.0 627.9,83.5 638.2,69.3 648.5,58.9 658.9,49.5 669.2,37.2 679.5,33.1 689.9,29.8 700.2,27.5 710.5,26.1 720.9,26.1 731.2,27.0 741.5,28.5 751.9,31.1 762.2,33.9 772.5,36.4 782.9,40.0" fill="none" stroke="#3a3aff" stroke-width="1.1" stroke-linejoin="round"/>
<rect x="574.9" y="162.7" width="2.6" height="2.6" fill="#000" stroke="#1010c0" stroke-width="0.7"/>
<rect x="585.2" y="146.4" width="2.6" height="2.6" fill="#000" stroke="#1010c0" stroke-width="0.7"/>
<rect x="595.6" y="127.2" width="2.6" height="2.6" fill="#000" stroke="#1010c0" stroke-width="0.7"/>
<rect x="605.9" y="119.4" width="2.6" height="2.6" fill="#000" stroke="#1010c0" stroke-width="0.7"/>
<rect x="616.2" y="99.7" width="2.6" height="2.6" fill="#000" stroke="#1010c0" stroke-width="0.7"/>
<rect x="626.6" y="82.2" width="2.6" height="2.6" fill="#000" stroke="#1010c0" stroke-width="0.7"/>
<rect x="636.9" y="68.0" width="2.6" height="2.6" fill="#000" stroke="#1010c0" stroke-width="0.7"/>
<rect x="647.2" y="57.6" width="2.6" height="2.6" fill="#000" stroke="#1010c0" stroke-width="0.7"/>
<rect x="657.6" y="48.2" width="2.6" height="2.6" fill="#000" stroke="#1010c0" stroke-width="0.7"/>
<rect x="667.9" y="35.9" width="2.6" height="2.6" fill="#000" stroke="#1010c0" stroke-width="0.7"/>
<rect x="678.2" y="31.8" width="2.6" height="2.6" fill="#000" stroke="#1010c0" stroke-width="0.7"/>
<rect x="688.6" y="28.5" width="2.6" height="2.6" fill="#000" stroke="#1010c0" stroke-width="0.7"/>
<rect x="698.9" y="26.2" width="2.6" height="2.6" fill="#000" stroke="#1010c0" stroke-width="0.7"/>
<rect x="709.2" y="24.8" width="2.6" height="2.6" fill="#000" stroke="#1010c0" stroke-width="0.7"/>
<rect x="719.6" y="24.8" width="2.6" height="2.6" fill="#000" stroke="#1010c0" stroke-width="0.7"/>
<rect x="729.9" y="25.7" width="2.6" height="2.6" fill="#000" stroke="#1010c0" stroke-width="0.7"/>
<rect x="740.2" y="27.2" width="2.6" height="2.6" fill="#000" stroke="#1010c0" stroke-width="0.7"/>
<rect x="750.6" y="29.8" width="2.6" height="2.6" fill="#000" stroke="#1010c0" stroke-width="0.7"/>
<rect x="760.9" y="32.6" width="2.6" height="2.6" fill="#000" stroke="#1010c0" stroke-width="0.7"/>
<rect x="771.2" y="35.1" width="2.6" height="2.6" fill="#000" stroke="#1010c0" stroke-width="0.7"/>
<rect x="781.6" y="38.7" width="2.6" height="2.6" fill="#000" stroke="#1010c0" stroke-width="0.7"/>
<polyline points="576.2,121.1 586.5,102.5 596.9,87.0 607.2,73.5 617.5,62.4 627.9,52.0 638.2,44.6 648.5,38.5 658.9,33.6 669.2,30.1 679.5,27.6 689.9,26.0 700.2,25.0 710.5,24.2 720.9,24.0 731.2,24.2 741.5,24.8 751.9,25.8 762.2,27.0 772.5,28.3 782.9,29.8" fill="none" stroke="#c83232" stroke-width="1.0" stroke-linejoin="round"/>
<rect x="574.9" y="119.8" width="2.6" height="2.6" fill="#000" stroke="#900000" stroke-width="0.7"/>
<rect x="585.2" y="101.2" width="2.6" height="2.6" fill="#000" stroke="#900000" stroke-width="0.7"/>
<rect x="595.6" y="85.7" width="2.6" height="2.6" fill="#000" stroke="#900000" stroke-width="0.7"/>
<rect x="605.9" y="72.2" width="2.6" height="2.6" fill="#000" stroke="#900000" stroke-width="0.7"/>
<rect x="616.2" y="61.1" width="2.6" height="2.6" fill="#000" stroke="#900000" stroke-width="0.7"/>
<rect x="626.6" y="50.7" width="2.6" height="2.6" fill="#000" stroke="#900000" stroke-width="0.7"/>
<rect x="636.9" y="43.3" width="2.6" height="2.6" fill="#000" stroke="#900000" stroke-width="0.7"/>
<rect x="647.2" y="37.2" width="2.6" height="2.6" fill="#000" stroke="#900000" stroke-width="0.7"/>
<rect x="657.6" y="32.3" width="2.6" height="2.6" fill="#000" stroke="#900000" stroke-width="0.7"/>
<rect x="667.9" y="28.8" width="2.6" height="2.6" fill="#000" stroke="#900000" stroke-width="0.7"/>
<rect x="678.2" y="26.3" width="2.6" height="2.6" fill="#000" stroke="#900000" stroke-width="0.7"/>
<rect x="688.6" y="24.7" width="2.6" height="2.6" fill="#000" stroke="#900000" stroke-width="0.7"/>
<rect x="698.9" y="23.7" width="2.6" height="2.6" fill="#000" stroke="#900000" stroke-width="0.7"/>
<rect x="709.2" y="22.9" width="2.6" height="2.6" fill="#000" stroke="#900000" stroke-width="0.7"/>
<rect x="719.6" y="22.7" width="2.6" height="2.6" fill="#000" stroke="#900000" stroke-width="0.7"/>
<rect x="729.9" y="22.9" width="2.6" height="2.6" fill="#000" stroke="#900000" stroke-width="0.7"/>
<rect x="740.2" y="23.5" width="2.6" height="2.6" fill="#000" stroke="#900000" stroke-width="0.7"/>
<rect x="750.6" y="24.5" width="2.6" height="2.6" fill="#000" stroke="#900000" stroke-width="0.7"/>
<rect x="760.9" y="25.7" width="2.6" height="2.6" fill="#000" stroke="#900000" stroke-width="0.7"/>
<rect x="771.2" y="27.0" width="2.6" height="2.6" fill="#000" stroke="#900000" stroke-width="0.7"/>
<rect x="781.6" y="28.5" width="2.6" height="2.6" fill="#000" stroke="#900000" stroke-width="0.7"/>
<polyline points="576.2,192.9 586.5,174.8 596.9,146.1 607.2,121.9 617.5,101.0 627.9,82.7 638.2,68.5 648.5,58.6 658.9,51.2 669.2,46.6 679.5,44.8 689.9,44.3 700.2,40.0 710.5,39.7 720.9,39.7 731.2,40.0 741.5,41.0 751.9,42.6 762.2,44.1 772.5,45.7 782.9,47.9" fill="none" stroke="#b8b8ff" stroke-width="0.75" stroke-dasharray="3 1.2 0.8 1.2" stroke-linejoin="round"/>
<path d="M574.2 191.4H578.2L576.2 195.1Z" fill="#000" stroke="#1010c0" stroke-width="0.7" stroke-linejoin="round"/>
<path d="M584.5 173.3H588.6L586.5 177.0Z" fill="#000" stroke="#1010c0" stroke-width="0.7" stroke-linejoin="round"/>
<path d="M594.8 144.6H598.9L596.9 148.3Z" fill="#000" stroke="#1010c0" stroke-width="0.7" stroke-linejoin="round"/>
<path d="M605.1 120.4H609.2L607.2 124.1Z" fill="#000" stroke="#1010c0" stroke-width="0.7" stroke-linejoin="round"/>
<path d="M615.5 99.5H619.6L617.5 103.2Z" fill="#000" stroke="#1010c0" stroke-width="0.7" stroke-linejoin="round"/>
<path d="M625.8 81.2H629.9L627.9 84.9Z" fill="#000" stroke="#1010c0" stroke-width="0.7" stroke-linejoin="round"/>
<path d="M636.1 67.0H640.2L638.2 70.7Z" fill="#000" stroke="#1010c0" stroke-width="0.7" stroke-linejoin="round"/>
<path d="M646.5 57.1H650.6L648.5 60.8Z" fill="#000" stroke="#1010c0" stroke-width="0.7" stroke-linejoin="round"/>
<path d="M656.8 49.7H660.9L658.9 53.4Z" fill="#000" stroke="#1010c0" stroke-width="0.7" stroke-linejoin="round"/>
<path d="M667.1 45.1H671.2L669.2 48.8Z" fill="#000" stroke="#1010c0" stroke-width="0.7" stroke-linejoin="round"/>
<path d="M677.5 43.3H681.6L679.5 47.0Z" fill="#000" stroke="#1010c0" stroke-width="0.7" stroke-linejoin="round"/>
<path d="M687.8 42.8H691.9L689.9 46.5Z" fill="#000" stroke="#1010c0" stroke-width="0.7" stroke-linejoin="round"/>
<path d="M698.1 38.5H702.2L700.2 42.2Z" fill="#000" stroke="#1010c0" stroke-width="0.7" stroke-linejoin="round"/>
<path d="M708.5 38.2H712.6L710.5 41.9Z" fill="#000" stroke="#1010c0" stroke-width="0.7" stroke-linejoin="round"/>
<path d="M718.8 38.2H722.9L720.9 41.9Z" fill="#000" stroke="#1010c0" stroke-width="0.7" stroke-linejoin="round"/>
<path d="M729.1 38.5H733.2L731.2 42.2Z" fill="#000" stroke="#1010c0" stroke-width="0.7" stroke-linejoin="round"/>
<path d="M739.5 39.5H743.6L741.5 43.2Z" fill="#000" stroke="#1010c0" stroke-width="0.7" stroke-linejoin="round"/>
<path d="M749.8 41.1H753.9L751.9 44.8Z" fill="#000" stroke="#1010c0" stroke-width="0.7" stroke-linejoin="round"/>
<path d="M760.1 42.6H764.2L762.2 46.3Z" fill="#000" stroke="#1010c0" stroke-width="0.7" stroke-linejoin="round"/>
<path d="M770.5 44.2H774.6L772.5 47.9Z" fill="#000" stroke="#1010c0" stroke-width="0.7" stroke-linejoin="round"/>
<path d="M780.8 46.4H784.9L782.9 50.1Z" fill="#000" stroke="#1010c0" stroke-width="0.7" stroke-linejoin="round"/>
<polyline points="576.2,164.2 586.5,138.5 596.9,117.4 607.2,101.3 617.5,88.5 627.9,79.3 638.2,73.2 648.5,68.5 658.9,64.4 669.2,60.6 679.5,58.0 689.9,55.7 700.2,54.5 710.5,53.8 720.9,53.7 731.2,53.8 741.5,54.5 751.9,55.5 762.2,57.0 772.5,58.3 782.9,59.9" fill="none" stroke="#efb0b0" stroke-width="0.75" stroke-dasharray="3 1.2 0.8 1.2" stroke-linejoin="round"/>
<path d="M574.2 162.7H578.2L576.2 166.4Z" fill="#000" stroke="#900000" stroke-width="0.7" stroke-linejoin="round"/>
<path d="M584.5 137.0H588.6L586.5 140.7Z" fill="#000" stroke="#900000" stroke-width="0.7" stroke-linejoin="round"/>
<path d="M594.8 115.9H598.9L596.9 119.6Z" fill="#000" stroke="#900000" stroke-width="0.7" stroke-linejoin="round"/>
<path d="M605.1 99.8H609.2L607.2 103.5Z" fill="#000" stroke="#900000" stroke-width="0.7" stroke-linejoin="round"/>
<path d="M615.5 87.0H619.6L617.5 90.7Z" fill="#000" stroke="#900000" stroke-width="0.7" stroke-linejoin="round"/>
<path d="M625.8 77.8H629.9L627.9 81.5Z" fill="#000" stroke="#900000" stroke-width="0.7" stroke-linejoin="round"/>
<path d="M636.1 71.7H640.2L638.2 75.4Z" fill="#000" stroke="#900000" stroke-width="0.7" stroke-linejoin="round"/>
<path d="M646.5 67.0H650.6L648.5 70.7Z" fill="#000" stroke="#900000" stroke-width="0.7" stroke-linejoin="round"/>
<path d="M656.8 62.9H660.9L658.9 66.6Z" fill="#000" stroke="#900000" stroke-width="0.7" stroke-linejoin="round"/>
<path d="M667.1 59.1H671.2L669.2 62.8Z" fill="#000" stroke="#900000" stroke-width="0.7" stroke-linejoin="round"/>
<path d="M677.5 56.5H681.6L679.5 60.2Z" fill="#000" stroke="#900000" stroke-width="0.7" stroke-linejoin="round"/>
<path d="M687.8 54.2H691.9L689.9 57.9Z" fill="#000" stroke="#900000" stroke-width="0.7" stroke-linejoin="round"/>
<path d="M698.1 53.0H702.2L700.2 56.7Z" fill="#000" stroke="#900000" stroke-width="0.7" stroke-linejoin="round"/>
<path d="M708.5 52.3H712.6L710.5 56.0Z" fill="#000" stroke="#900000" stroke-width="0.7" stroke-linejoin="round"/>
<path d="M718.8 52.2H722.9L720.9 55.9Z" fill="#000" stroke="#900000" stroke-width="0.7" stroke-linejoin="round"/>
<path d="M729.1 52.3H733.2L731.2 56.0Z" fill="#000" stroke="#900000" stroke-width="0.7" stroke-linejoin="round"/>
<path d="M739.5 53.0H743.6L741.5 56.7Z" fill="#000" stroke="#900000" stroke-width="0.7" stroke-linejoin="round"/>
<path d="M749.8 54.0H753.9L751.9 57.7Z" fill="#000" stroke="#900000" stroke-width="0.7" stroke-linejoin="round"/>
<path d="M760.1 55.5H764.2L762.2 59.2Z" fill="#000" stroke="#900000" stroke-width="0.7" stroke-linejoin="round"/>
<path d="M770.5 56.8H774.6L772.5 60.5Z" fill="#000" stroke="#900000" stroke-width="0.7" stroke-linejoin="round"/>
<path d="M780.8 58.4H784.9L782.9 62.1Z" fill="#000" stroke="#900000" stroke-width="0.7" stroke-linejoin="round"/>
<text x="573.6" y="16.7" font-size="7.6" text-anchor="end" fill="#1c1c1c" textLength="10.5" lengthAdjust="spacingAndGlyphs">0.7</text>
<text x="573.6" y="46.7" font-size="7.6" text-anchor="end" fill="#1c1c1c" textLength="14.7" lengthAdjust="spacingAndGlyphs">0.65</text>
<text x="573.6" y="76.8" font-size="7.6" text-anchor="end" fill="#1c1c1c" textLength="10.5" lengthAdjust="spacingAndGlyphs">0.6</text>
<text x="573.6" y="106.8" font-size="7.6" text-anchor="end" fill="#1c1c1c" textLength="14.7" lengthAdjust="spacingAndGlyphs">0.55</text>
<text x="573.6" y="136.8" font-size="7.6" text-anchor="end" fill="#1c1c1c" textLength="10.5" lengthAdjust="spacingAndGlyphs">0.5</text>
<text x="573.6" y="166.8" font-size="7.6" text-anchor="end" fill="#1c1c1c" textLength="14.7" lengthAdjust="spacingAndGlyphs">0.45</text>
<text x="573.6" y="196.8" font-size="7.6" text-anchor="end" fill="#1c1c1c" textLength="10.5" lengthAdjust="spacingAndGlyphs">0.4</text>
<text x="576.2" y="203.1" font-size="7.6" text-anchor="middle" fill="#1c1c1c" textLength="4.2" lengthAdjust="spacingAndGlyphs">0</text>
<text x="627.9" y="203.1" font-size="7.6" text-anchor="middle" fill="#1c1c1c" textLength="4.2" lengthAdjust="spacingAndGlyphs">5</text>
<text x="679.5" y="203.1" font-size="7.6" text-anchor="middle" fill="#1c1c1c" textLength="8.4" lengthAdjust="spacingAndGlyphs">10</text>
<text x="731.2" y="203.1" font-size="7.6" text-anchor="middle" fill="#1c1c1c" textLength="8.4" lengthAdjust="spacingAndGlyphs">15</text>
<text x="782.9" y="203.1" font-size="7.6" text-anchor="middle" fill="#1c1c1c" textLength="8.4" lengthAdjust="spacingAndGlyphs">20</text>
<text transform="translate(554.0,103.9) rotate(-90)" font-size="11.2" text-anchor="middle" fill="#1c1c1c" textLength="120.0" lengthAdjust="spacingAndGlyphs">Test information (bits)</text>
<text x="679.5" y="9.9" font-size="10.6" font-weight="bold" text-anchor="middle" fill="#111" textLength="90.5" lengthAdjust="spacingAndGlyphs">Male v. Female</text>
</g>
<g>
<line x1="84.0" y1="263.4" x2="84.0" y2="443.2" stroke="#e6e6e6" stroke-width="0.9"/>
<line x1="135.7" y1="263.4" x2="135.7" y2="443.2" stroke="#e6e6e6" stroke-width="0.9"/>
<line x1="187.3" y1="263.4" x2="187.3" y2="443.2" stroke="#e6e6e6" stroke-width="0.9"/>
<line x1="32.4" y1="283.4" x2="239.0" y2="283.4" stroke="#e6e6e6" stroke-width="0.9"/>
<line x1="32.4" y1="303.4" x2="239.0" y2="303.4" stroke="#e6e6e6" stroke-width="0.9"/>
<line x1="32.4" y1="323.3" x2="239.0" y2="323.3" stroke="#e6e6e6" stroke-width="0.9"/>
<line x1="32.4" y1="343.3" x2="239.0" y2="343.3" stroke="#e6e6e6" stroke-width="0.9"/>
<line x1="32.4" y1="363.3" x2="239.0" y2="363.3" stroke="#e6e6e6" stroke-width="0.9"/>
<line x1="32.4" y1="383.3" x2="239.0" y2="383.3" stroke="#e6e6e6" stroke-width="0.9"/>
<line x1="32.4" y1="403.2" x2="239.0" y2="403.2" stroke="#e6e6e6" stroke-width="0.9"/>
<line x1="32.4" y1="423.2" x2="239.0" y2="423.2" stroke="#e6e6e6" stroke-width="0.9"/>
<line x1="32.4" y1="443.2" x2="32.4" y2="441.0" stroke="#666666" stroke-width="0.9"/>
<line x1="32.4" y1="263.4" x2="32.4" y2="265.59999999999997" stroke="#666666" stroke-width="0.9"/>
<line x1="84.0" y1="443.2" x2="84.0" y2="441.0" stroke="#666666" stroke-width="0.9"/>
<line x1="84.0" y1="263.4" x2="84.0" y2="265.59999999999997" stroke="#666666" stroke-width="0.9"/>
<line x1="135.7" y1="443.2" x2="135.7" y2="441.0" stroke="#666666" stroke-width="0.9"/>
<line x1="135.7" y1="263.4" x2="135.7" y2="265.59999999999997" stroke="#666666" stroke-width="0.9"/>
<line x1="187.3" y1="443.2" x2="187.3" y2="441.0" stroke="#666666" stroke-width="0.9"/>
<line x1="187.3" y1="263.4" x2="187.3" y2="265.59999999999997" stroke="#666666" stroke-width="0.9"/>
<line x1="239.0" y1="443.2" x2="239.0" y2="441.0" stroke="#666666" stroke-width="0.9"/>
<line x1="239.0" y1="263.4" x2="239.0" y2="265.59999999999997" stroke="#666666" stroke-width="0.9"/>
<line x1="32.4" y1="263.4" x2="34.6" y2="263.4" stroke="#666666" stroke-width="0.9"/>
<line x1="239.0" y1="263.4" x2="236.8" y2="263.4" stroke="#666666" stroke-width="0.9"/>
<line x1="32.4" y1="283.4" x2="34.6" y2="283.4" stroke="#666666" stroke-width="0.9"/>
<line x1="239.0" y1="283.4" x2="236.8" y2="283.4" stroke="#666666" stroke-width="0.9"/>
<line x1="32.4" y1="303.4" x2="34.6" y2="303.4" stroke="#666666" stroke-width="0.9"/>
<line x1="239.0" y1="303.4" x2="236.8" y2="303.4" stroke="#666666" stroke-width="0.9"/>
<line x1="32.4" y1="323.3" x2="34.6" y2="323.3" stroke="#666666" stroke-width="0.9"/>
<line x1="239.0" y1="323.3" x2="236.8" y2="323.3" stroke="#666666" stroke-width="0.9"/>
<line x1="32.4" y1="343.3" x2="34.6" y2="343.3" stroke="#666666" stroke-width="0.9"/>
<line x1="239.0" y1="343.3" x2="236.8" y2="343.3" stroke="#666666" stroke-width="0.9"/>
<line x1="32.4" y1="363.3" x2="34.6" y2="363.3" stroke="#666666" stroke-width="0.9"/>
<line x1="239.0" y1="363.3" x2="236.8" y2="363.3" stroke="#666666" stroke-width="0.9"/>
<line x1="32.4" y1="383.3" x2="34.6" y2="383.3" stroke="#666666" stroke-width="0.9"/>
<line x1="239.0" y1="383.3" x2="236.8" y2="383.3" stroke="#666666" stroke-width="0.9"/>
<line x1="32.4" y1="403.2" x2="34.6" y2="403.2" stroke="#666666" stroke-width="0.9"/>
<line x1="239.0" y1="403.2" x2="236.8" y2="403.2" stroke="#666666" stroke-width="0.9"/>
<line x1="32.4" y1="423.2" x2="34.6" y2="423.2" stroke="#666666" stroke-width="0.9"/>
<line x1="239.0" y1="423.2" x2="236.8" y2="423.2" stroke="#666666" stroke-width="0.9"/>
<line x1="32.4" y1="443.2" x2="34.6" y2="443.2" stroke="#666666" stroke-width="0.9"/>
<line x1="239.0" y1="443.2" x2="236.8" y2="443.2" stroke="#666666" stroke-width="0.9"/>
<rect x="32.4" y="263.4" width="206.60" height="179.80" fill="none" stroke="#666666" stroke-width="1.1"/>
<polyline points="32.4,373.4 42.7,379.2 53.1,384.0 63.4,388.4 73.7,393.1 84.0,397.2 94.4,406.9 104.7,417.9 115.0,426.3 125.4,431.5 135.7,433.7 146.0,433.7 156.4,432.4 166.7,429.9 177.0,427.1 187.3,424.1 197.7,421.3 208.0,418.5 218.3,416.2 228.7,413.9 239.0,412.0" fill="none" stroke="#2b2b2b" stroke-width="1.0" stroke-linejoin="round"/>
<circle cx="32.4" cy="373.4" r="2.05" fill="#000"/>
<circle cx="42.7" cy="379.2" r="2.05" fill="#000"/>
<circle cx="53.1" cy="384.0" r="2.05" fill="#000"/>
<circle cx="63.4" cy="388.4" r="2.05" fill="#000"/>
<circle cx="73.7" cy="393.1" r="2.05" fill="#000"/>
<circle cx="84.0" cy="397.2" r="2.05" fill="#000"/>
<circle cx="94.4" cy="406.9" r="2.05" fill="#000"/>
<circle cx="104.7" cy="417.9" r="2.05" fill="#000"/>
<circle cx="115.0" cy="426.3" r="2.05" fill="#000"/>
<circle cx="125.4" cy="431.5" r="2.05" fill="#000"/>
<circle cx="135.7" cy="433.7" r="2.05" fill="#000"/>
<circle cx="146.0" cy="433.7" r="2.05" fill="#000"/>
<circle cx="156.4" cy="432.4" r="2.05" fill="#000"/>
<circle cx="166.7" cy="429.9" r="2.05" fill="#000"/>
<circle cx="177.0" cy="427.1" r="2.05" fill="#000"/>
<circle cx="187.3" cy="424.1" r="2.05" fill="#000"/>
<circle cx="197.7" cy="421.3" r="2.05" fill="#000"/>
<circle cx="208.0" cy="418.5" r="2.05" fill="#000"/>
<circle cx="218.3" cy="416.2" r="2.05" fill="#000"/>
<circle cx="228.7" cy="413.9" r="2.05" fill="#000"/>
<circle cx="239.0" cy="412.0" r="2.05" fill="#000"/>
<polyline points="32.4,275.3 42.7,305.0 53.1,345.1 63.4,372.6 73.7,391.1 84.0,397.2 94.4,392.7 104.7,402.6 115.0,410.0 125.4,413.7 135.7,415.5 146.0,415.6 156.4,414.4 166.7,412.0 177.0,409.5 187.3,407.0 197.7,404.5 208.0,402.4 218.3,400.1 228.7,398.4 239.0,396.3" fill="none" stroke="#3a3aff" stroke-width="1.1" stroke-linejoin="round"/>
<rect x="31.1" y="274.0" width="2.6" height="2.6" fill="#000" stroke="#1010c0" stroke-width="0.7"/>
<rect x="41.4" y="303.7" width="2.6" height="2.6" fill="#000" stroke="#1010c0" stroke-width="0.7"/>
<rect x="51.8" y="343.8" width="2.6" height="2.6" fill="#000" stroke="#1010c0" stroke-width="0.7"/>
<rect x="62.1" y="371.3" width="2.6" height="2.6" fill="#000" stroke="#1010c0" stroke-width="0.7"/>
<rect x="72.4" y="389.8" width="2.6" height="2.6" fill="#000" stroke="#1010c0" stroke-width="0.7"/>
<rect x="82.8" y="395.9" width="2.6" height="2.6" fill="#000" stroke="#1010c0" stroke-width="0.7"/>
<rect x="93.1" y="391.4" width="2.6" height="2.6" fill="#000" stroke="#1010c0" stroke-width="0.7"/>
<rect x="103.4" y="401.3" width="2.6" height="2.6" fill="#000" stroke="#1010c0" stroke-width="0.7"/>
<rect x="113.7" y="408.7" width="2.6" height="2.6" fill="#000" stroke="#1010c0" stroke-width="0.7"/>
<rect x="124.1" y="412.4" width="2.6" height="2.6" fill="#000" stroke="#1010c0" stroke-width="0.7"/>
<rect x="134.4" y="414.2" width="2.6" height="2.6" fill="#000" stroke="#1010c0" stroke-width="0.7"/>
<rect x="144.7" y="414.3" width="2.6" height="2.6" fill="#000" stroke="#1010c0" stroke-width="0.7"/>
<rect x="155.1" y="413.1" width="2.6" height="2.6" fill="#000" stroke="#1010c0" stroke-width="0.7"/>
<rect x="165.4" y="410.7" width="2.6" height="2.6" fill="#000" stroke="#1010c0" stroke-width="0.7"/>
<rect x="175.7" y="408.2" width="2.6" height="2.6" fill="#000" stroke="#1010c0" stroke-width="0.7"/>
<rect x="186.0" y="405.7" width="2.6" height="2.6" fill="#000" stroke="#1010c0" stroke-width="0.7"/>
<rect x="196.4" y="403.2" width="2.6" height="2.6" fill="#000" stroke="#1010c0" stroke-width="0.7"/>
<rect x="206.7" y="401.1" width="2.6" height="2.6" fill="#000" stroke="#1010c0" stroke-width="0.7"/>
<rect x="217.0" y="398.8" width="2.6" height="2.6" fill="#000" stroke="#1010c0" stroke-width="0.7"/>
<rect x="227.4" y="397.1" width="2.6" height="2.6" fill="#000" stroke="#1010c0" stroke-width="0.7"/>
<rect x="237.7" y="395.0" width="2.6" height="2.6" fill="#000" stroke="#1010c0" stroke-width="0.7"/>
<polyline points="32.4,307.1 42.7,344.7 53.1,359.5 63.4,363.1 73.7,361.6 84.0,370.2 94.4,376.8 104.7,380.9 115.0,382.9 125.4,383.8 135.7,383.0 146.0,381.8 156.4,380.3 166.7,378.3 177.0,376.2 187.3,374.2 197.7,372.2 208.0,370.6 218.3,369.1 228.7,367.8 239.0,366.6" fill="none" stroke="#c83232" stroke-width="1.0" stroke-linejoin="round"/>
<rect x="31.1" y="305.8" width="2.6" height="2.6" fill="#000" stroke="#900000" stroke-width="0.7"/>
<rect x="41.4" y="343.4" width="2.6" height="2.6" fill="#000" stroke="#900000" stroke-width="0.7"/>
<rect x="51.8" y="358.2" width="2.6" height="2.6" fill="#000" stroke="#900000" stroke-width="0.7"/>
<rect x="62.1" y="361.8" width="2.6" height="2.6" fill="#000" stroke="#900000" stroke-width="0.7"/>
<rect x="72.4" y="360.3" width="2.6" height="2.6" fill="#000" stroke="#900000" stroke-width="0.7"/>
<rect x="82.8" y="368.9" width="2.6" height="2.6" fill="#000" stroke="#900000" stroke-width="0.7"/>
<rect x="93.1" y="375.5" width="2.6" height="2.6" fill="#000" stroke="#900000" stroke-width="0.7"/>
<rect x="103.4" y="379.6" width="2.6" height="2.6" fill="#000" stroke="#900000" stroke-width="0.7"/>
<rect x="113.7" y="381.6" width="2.6" height="2.6" fill="#000" stroke="#900000" stroke-width="0.7"/>
<rect x="124.1" y="382.5" width="2.6" height="2.6" fill="#000" stroke="#900000" stroke-width="0.7"/>
<rect x="134.4" y="381.7" width="2.6" height="2.6" fill="#000" stroke="#900000" stroke-width="0.7"/>
<rect x="144.7" y="380.5" width="2.6" height="2.6" fill="#000" stroke="#900000" stroke-width="0.7"/>
<rect x="155.1" y="379.0" width="2.6" height="2.6" fill="#000" stroke="#900000" stroke-width="0.7"/>
<rect x="165.4" y="377.0" width="2.6" height="2.6" fill="#000" stroke="#900000" stroke-width="0.7"/>
<rect x="175.7" y="374.9" width="2.6" height="2.6" fill="#000" stroke="#900000" stroke-width="0.7"/>
<rect x="186.0" y="372.9" width="2.6" height="2.6" fill="#000" stroke="#900000" stroke-width="0.7"/>
<rect x="196.4" y="370.9" width="2.6" height="2.6" fill="#000" stroke="#900000" stroke-width="0.7"/>
<rect x="206.7" y="369.3" width="2.6" height="2.6" fill="#000" stroke="#900000" stroke-width="0.7"/>
<rect x="217.0" y="367.8" width="2.6" height="2.6" fill="#000" stroke="#900000" stroke-width="0.7"/>
<rect x="227.4" y="366.5" width="2.6" height="2.6" fill="#000" stroke="#900000" stroke-width="0.7"/>
<rect x="237.7" y="365.3" width="2.6" height="2.6" fill="#000" stroke="#900000" stroke-width="0.7"/>
<polyline points="32.4,284.7 42.7,309.6 53.1,344.3 63.4,374.0 73.7,390.1 84.0,396.4 94.4,391.9 104.7,402.1 115.0,409.5 125.4,412.9 135.7,413.5 146.0,412.2 156.4,409.3 166.7,405.9 177.0,402.4 187.3,398.8 197.7,394.8 208.0,391.0 218.3,388.1 228.7,385.1 239.0,382.6" fill="none" stroke="#b8b8ff" stroke-width="0.75" stroke-dasharray="3 1.2 0.8 1.2" stroke-linejoin="round"/>
<path d="M30.3 283.2H34.4L32.4 286.9Z" fill="#000" stroke="#1010c0" stroke-width="0.7" stroke-linejoin="round"/>
<path d="M40.7 308.1H44.8L42.7 311.8Z" fill="#000" stroke="#1010c0" stroke-width="0.7" stroke-linejoin="round"/>
<path d="M51.0 342.8H55.1L53.1 346.5Z" fill="#000" stroke="#1010c0" stroke-width="0.7" stroke-linejoin="round"/>
<path d="M61.3 372.5H65.4L63.4 376.2Z" fill="#000" stroke="#1010c0" stroke-width="0.7" stroke-linejoin="round"/>
<path d="M71.7 388.6H75.8L73.7 392.3Z" fill="#000" stroke="#1010c0" stroke-width="0.7" stroke-linejoin="round"/>
<path d="M82.0 394.9H86.1L84.0 398.6Z" fill="#000" stroke="#1010c0" stroke-width="0.7" stroke-linejoin="round"/>
<path d="M92.3 390.4H96.4L94.4 394.1Z" fill="#000" stroke="#1010c0" stroke-width="0.7" stroke-linejoin="round"/>
<path d="M102.7 400.6H106.8L104.7 404.3Z" fill="#000" stroke="#1010c0" stroke-width="0.7" stroke-linejoin="round"/>
<path d="M113.0 408.0H117.1L115.0 411.7Z" fill="#000" stroke="#1010c0" stroke-width="0.7" stroke-linejoin="round"/>
<path d="M123.3 411.4H127.4L125.4 415.1Z" fill="#000" stroke="#1010c0" stroke-width="0.7" stroke-linejoin="round"/>
<path d="M133.6 412.0H137.8L135.7 415.7Z" fill="#000" stroke="#1010c0" stroke-width="0.7" stroke-linejoin="round"/>
<path d="M144.0 410.7H148.1L146.0 414.4Z" fill="#000" stroke="#1010c0" stroke-width="0.7" stroke-linejoin="round"/>
<path d="M154.3 407.8H158.4L156.4 411.5Z" fill="#000" stroke="#1010c0" stroke-width="0.7" stroke-linejoin="round"/>
<path d="M164.6 404.4H168.7L166.7 408.1Z" fill="#000" stroke="#1010c0" stroke-width="0.7" stroke-linejoin="round"/>
<path d="M175.0 400.9H179.1L177.0 404.6Z" fill="#000" stroke="#1010c0" stroke-width="0.7" stroke-linejoin="round"/>
<path d="M185.3 397.3H189.4L187.3 401.0Z" fill="#000" stroke="#1010c0" stroke-width="0.7" stroke-linejoin="round"/>
<path d="M195.6 393.3H199.7L197.7 397.0Z" fill="#000" stroke="#1010c0" stroke-width="0.7" stroke-linejoin="round"/>
<path d="M206.0 389.5H210.1L208.0 393.2Z" fill="#000" stroke="#1010c0" stroke-width="0.7" stroke-linejoin="round"/>
<path d="M216.3 386.6H220.4L218.3 390.3Z" fill="#000" stroke="#1010c0" stroke-width="0.7" stroke-linejoin="round"/>
<path d="M226.6 383.6H230.7L228.7 387.3Z" fill="#000" stroke="#1010c0" stroke-width="0.7" stroke-linejoin="round"/>
<path d="M236.9 381.1H241.1L239.0 384.8Z" fill="#000" stroke="#1010c0" stroke-width="0.7" stroke-linejoin="round"/>
<polyline points="32.4,294.2 42.7,328.0 53.1,341.9 63.4,345.5 73.7,341.0 84.0,348.0 94.4,353.9 104.7,355.9 115.0,355.2 125.4,353.0 135.7,349.5 146.0,345.2 156.4,339.6 166.7,333.9 177.0,328.1 187.3,321.5 197.7,315.4 208.0,309.5 218.3,304.1 228.7,298.3 239.0,293.3" fill="none" stroke="#efb0b0" stroke-width="0.75" stroke-dasharray="3 1.2 0.8 1.2" stroke-linejoin="round"/>
<path d="M30.3 292.7H34.4L32.4 296.4Z" fill="#000" stroke="#900000" stroke-width="0.7" stroke-linejoin="round"/>
<path d="M40.7 326.5H44.8L42.7 330.2Z" fill="#000" stroke="#900000" stroke-width="0.7" stroke-linejoin="round"/>
<path d="M51.0 340.4H55.1L53.1 344.1Z" fill="#000" stroke="#900000" stroke-width="0.7" stroke-linejoin="round"/>
<path d="M61.3 344.0H65.4L63.4 347.7Z" fill="#000" stroke="#900000" stroke-width="0.7" stroke-linejoin="round"/>
<path d="M71.7 339.5H75.8L73.7 343.2Z" fill="#000" stroke="#900000" stroke-width="0.7" stroke-linejoin="round"/>
<path d="M82.0 346.5H86.1L84.0 350.2Z" fill="#000" stroke="#900000" stroke-width="0.7" stroke-linejoin="round"/>
<path d="M92.3 352.4H96.4L94.4 356.1Z" fill="#000" stroke="#900000" stroke-width="0.7" stroke-linejoin="round"/>
<path d="M102.7 354.4H106.8L104.7 358.1Z" fill="#000" stroke="#900000" stroke-width="0.7" stroke-linejoin="round"/>
<path d="M113.0 353.7H117.1L115.0 357.4Z" fill="#000" stroke="#900000" stroke-width="0.7" stroke-linejoin="round"/>
<path d="M123.3 351.5H127.4L125.4 355.2Z" fill="#000" stroke="#900000" stroke-width="0.7" stroke-linejoin="round"/>
<path d="M133.6 348.0H137.8L135.7 351.7Z" fill="#000" stroke="#900000" stroke-width="0.7" stroke-linejoin="round"/>
<path d="M144.0 343.7H148.1L146.0 347.4Z" fill="#000" stroke="#900000" stroke-width="0.7" stroke-linejoin="round"/>
<path d="M154.3 338.1H158.4L156.4 341.8Z" fill="#000" stroke="#900000" stroke-width="0.7" stroke-linejoin="round"/>
<path d="M164.6 332.4H168.7L166.7 336.1Z" fill="#000" stroke="#900000" stroke-width="0.7" stroke-linejoin="round"/>
<path d="M175.0 326.6H179.1L177.0 330.3Z" fill="#000" stroke="#900000" stroke-width="0.7" stroke-linejoin="round"/>
<path d="M185.3 320.0H189.4L187.3 323.7Z" fill="#000" stroke="#900000" stroke-width="0.7" stroke-linejoin="round"/>
<path d="M195.6 313.9H199.7L197.7 317.6Z" fill="#000" stroke="#900000" stroke-width="0.7" stroke-linejoin="round"/>
<path d="M206.0 308.0H210.1L208.0 311.7Z" fill="#000" stroke="#900000" stroke-width="0.7" stroke-linejoin="round"/>
<path d="M216.3 302.6H220.4L218.3 306.3Z" fill="#000" stroke="#900000" stroke-width="0.7" stroke-linejoin="round"/>
<path d="M226.6 296.8H230.7L228.7 300.5Z" fill="#000" stroke="#900000" stroke-width="0.7" stroke-linejoin="round"/>
<path d="M236.9 291.8H241.1L239.0 295.5Z" fill="#000" stroke="#900000" stroke-width="0.7" stroke-linejoin="round"/>
<text x="29.8" y="266.3" font-size="7.6" text-anchor="end" fill="#1c1c1c" textLength="10.5" lengthAdjust="spacingAndGlyphs">7.1</text>
<text x="29.8" y="286.3" font-size="7.6" text-anchor="end" fill="#1c1c1c" textLength="4.2" lengthAdjust="spacingAndGlyphs">7</text>
<text x="29.8" y="306.3" font-size="7.6" text-anchor="end" fill="#1c1c1c" textLength="10.5" lengthAdjust="spacingAndGlyphs">6.9</text>
<text x="29.8" y="326.2" font-size="7.6" text-anchor="end" fill="#1c1c1c" textLength="10.5" lengthAdjust="spacingAndGlyphs">6.8</text>
<text x="29.8" y="346.2" font-size="7.6" text-anchor="end" fill="#1c1c1c" textLength="10.5" lengthAdjust="spacingAndGlyphs">6.7</text>
<text x="29.8" y="366.2" font-size="7.6" text-anchor="end" fill="#1c1c1c" textLength="10.5" lengthAdjust="spacingAndGlyphs">6.6</text>
<text x="29.8" y="386.2" font-size="7.6" text-anchor="end" fill="#1c1c1c" textLength="10.5" lengthAdjust="spacingAndGlyphs">6.5</text>
<text x="29.8" y="406.1" font-size="7.6" text-anchor="end" fill="#1c1c1c" textLength="10.5" lengthAdjust="spacingAndGlyphs">6.4</text>
<text x="29.8" y="426.1" font-size="7.6" text-anchor="end" fill="#1c1c1c" textLength="10.5" lengthAdjust="spacingAndGlyphs">6.3</text>
<text x="29.8" y="446.1" font-size="7.6" text-anchor="end" fill="#1c1c1c" textLength="10.5" lengthAdjust="spacingAndGlyphs">6.2</text>
<text x="32.4" y="452.4" font-size="7.6" text-anchor="middle" fill="#1c1c1c" textLength="4.2" lengthAdjust="spacingAndGlyphs">0</text>
<text x="84.0" y="452.4" font-size="7.6" text-anchor="middle" fill="#1c1c1c" textLength="4.2" lengthAdjust="spacingAndGlyphs">5</text>
<text x="135.7" y="452.4" font-size="7.6" text-anchor="middle" fill="#1c1c1c" textLength="8.4" lengthAdjust="spacingAndGlyphs">10</text>
<text x="187.3" y="452.4" font-size="7.6" text-anchor="middle" fill="#1c1c1c" textLength="8.4" lengthAdjust="spacingAndGlyphs">15</text>
<text x="239.0" y="452.4" font-size="7.6" text-anchor="middle" fill="#1c1c1c" textLength="8.4" lengthAdjust="spacingAndGlyphs">20</text>
<text transform="translate(15.0,354.1) rotate(-90)" font-size="11.2" text-anchor="middle" fill="#1c1c1c" textLength="51.5" lengthAdjust="spacingAndGlyphs">RMS error</text>
<text x="135.7" y="463.8" font-size="10.6" text-anchor="middle" fill="#1c1c1c" textLength="65.6" lengthAdjust="spacingAndGlyphs">FWHM (mm)</text>
</g>
<g>
<line x1="356.3" y1="263.4" x2="356.3" y2="443.2" stroke="#e6e6e6" stroke-width="0.9"/>
<line x1="408.0" y1="263.4" x2="408.0" y2="443.2" stroke="#e6e6e6" stroke-width="0.9"/>
<line x1="459.6" y1="263.4" x2="459.6" y2="443.2" stroke="#e6e6e6" stroke-width="0.9"/>
<line x1="304.6" y1="281.4" x2="511.3" y2="281.4" stroke="#e6e6e6" stroke-width="0.9"/>
<line x1="304.6" y1="299.4" x2="511.3" y2="299.4" stroke="#e6e6e6" stroke-width="0.9"/>
<line x1="304.6" y1="317.3" x2="511.3" y2="317.3" stroke="#e6e6e6" stroke-width="0.9"/>
<line x1="304.6" y1="335.3" x2="511.3" y2="335.3" stroke="#e6e6e6" stroke-width="0.9"/>
<line x1="304.6" y1="353.3" x2="511.3" y2="353.3" stroke="#e6e6e6" stroke-width="0.9"/>
<line x1="304.6" y1="371.3" x2="511.3" y2="371.3" stroke="#e6e6e6" stroke-width="0.9"/>
<line x1="304.6" y1="389.3" x2="511.3" y2="389.3" stroke="#e6e6e6" stroke-width="0.9"/>
<line x1="304.6" y1="407.2" x2="511.3" y2="407.2" stroke="#e6e6e6" stroke-width="0.9"/>
<line x1="304.6" y1="425.2" x2="511.3" y2="425.2" stroke="#e6e6e6" stroke-width="0.9"/>
<line x1="304.6" y1="443.2" x2="304.6" y2="441.0" stroke="#666666" stroke-width="0.9"/>
<line x1="304.6" y1="263.4" x2="304.6" y2="265.59999999999997" stroke="#666666" stroke-width="0.9"/>
<line x1="356.3" y1="443.2" x2="356.3" y2="441.0" stroke="#666666" stroke-width="0.9"/>
<line x1="356.3" y1="263.4" x2="356.3" y2="265.59999999999997" stroke="#666666" stroke-width="0.9"/>
<line x1="408.0" y1="443.2" x2="408.0" y2="441.0" stroke="#666666" stroke-width="0.9"/>
<line x1="408.0" y1="263.4" x2="408.0" y2="265.59999999999997" stroke="#666666" stroke-width="0.9"/>
<line x1="459.6" y1="443.2" x2="459.6" y2="441.0" stroke="#666666" stroke-width="0.9"/>
<line x1="459.6" y1="263.4" x2="459.6" y2="265.59999999999997" stroke="#666666" stroke-width="0.9"/>
<line x1="511.3" y1="443.2" x2="511.3" y2="441.0" stroke="#666666" stroke-width="0.9"/>
<line x1="511.3" y1="263.4" x2="511.3" y2="265.59999999999997" stroke="#666666" stroke-width="0.9"/>
<line x1="304.6" y1="263.4" x2="306.8" y2="263.4" stroke="#666666" stroke-width="0.9"/>
<line x1="511.3" y1="263.4" x2="509.1" y2="263.4" stroke="#666666" stroke-width="0.9"/>
<line x1="304.6" y1="281.4" x2="306.8" y2="281.4" stroke="#666666" stroke-width="0.9"/>
<line x1="511.3" y1="281.4" x2="509.1" y2="281.4" stroke="#666666" stroke-width="0.9"/>
<line x1="304.6" y1="299.4" x2="306.8" y2="299.4" stroke="#666666" stroke-width="0.9"/>
<line x1="511.3" y1="299.4" x2="509.1" y2="299.4" stroke="#666666" stroke-width="0.9"/>
<line x1="304.6" y1="317.3" x2="306.8" y2="317.3" stroke="#666666" stroke-width="0.9"/>
<line x1="511.3" y1="317.3" x2="509.1" y2="317.3" stroke="#666666" stroke-width="0.9"/>
<line x1="304.6" y1="335.3" x2="306.8" y2="335.3" stroke="#666666" stroke-width="0.9"/>
<line x1="511.3" y1="335.3" x2="509.1" y2="335.3" stroke="#666666" stroke-width="0.9"/>
<line x1="304.6" y1="353.3" x2="306.8" y2="353.3" stroke="#666666" stroke-width="0.9"/>
<line x1="511.3" y1="353.3" x2="509.1" y2="353.3" stroke="#666666" stroke-width="0.9"/>
<line x1="304.6" y1="371.3" x2="306.8" y2="371.3" stroke="#666666" stroke-width="0.9"/>
<line x1="511.3" y1="371.3" x2="509.1" y2="371.3" stroke="#666666" stroke-width="0.9"/>
<line x1="304.6" y1="389.3" x2="306.8" y2="389.3" stroke="#666666" stroke-width="0.9"/>
<line x1="511.3" y1="389.3" x2="509.1" y2="389.3" stroke="#666666" stroke-width="0.9"/>
<line x1="304.6" y1="407.2" x2="306.8" y2="407.2" stroke="#666666" stroke-width="0.9"/>
<line x1="511.3" y1="407.2" x2="509.1" y2="407.2" stroke="#666666" stroke-width="0.9"/>
<line x1="304.6" y1="425.2" x2="306.8" y2="425.2" stroke="#666666" stroke-width="0.9"/>
<line x1="511.3" y1="425.2" x2="509.1" y2="425.2" stroke="#666666" stroke-width="0.9"/>
<line x1="304.6" y1="443.2" x2="306.8" y2="443.2" stroke="#666666" stroke-width="0.9"/>
<line x1="511.3" y1="443.2" x2="509.1" y2="443.2" stroke="#666666" stroke-width="0.9"/>
<rect x="304.6" y="263.4" width="206.70" height="179.80" fill="none" stroke="#666666" stroke-width="1.1"/>
<polyline points="304.6,304.1 314.9,303.3 325.3,307.4 335.6,323.9 345.9,336.7 356.3,348.2 366.6,358.1 376.9,366.3 387.3,372.6 397.6,378.0 408.0,382.8 418.3,386.9 428.6,390.4 439.0,393.4 449.3,395.9 459.6,397.8 470.0,399.2 480.3,400.0 490.6,400.6 501.0,401.0 511.3,401.0" fill="none" stroke="#2b2b2b" stroke-width="1.0" stroke-linejoin="round"/>
<circle cx="304.6" cy="304.1" r="2.05" fill="#000"/>
<circle cx="314.9" cy="303.3" r="2.05" fill="#000"/>
<circle cx="325.3" cy="307.4" r="2.05" fill="#000"/>
<circle cx="335.6" cy="323.9" r="2.05" fill="#000"/>
<circle cx="345.9" cy="336.7" r="2.05" fill="#000"/>
<circle cx="356.3" cy="348.2" r="2.05" fill="#000"/>
<circle cx="366.6" cy="358.1" r="2.05" fill="#000"/>
<circle cx="376.9" cy="366.3" r="2.05" fill="#000"/>
<circle cx="387.3" cy="372.6" r="2.05" fill="#000"/>
<circle cx="397.6" cy="378.0" r="2.05" fill="#000"/>
<circle cx="408.0" cy="382.8" r="2.05" fill="#000"/>
<circle cx="418.3" cy="386.9" r="2.05" fill="#000"/>
<circle cx="428.6" cy="390.4" r="2.05" fill="#000"/>
<circle cx="439.0" cy="393.4" r="2.05" fill="#000"/>
<circle cx="449.3" cy="395.9" r="2.05" fill="#000"/>
<circle cx="459.6" cy="397.8" r="2.05" fill="#000"/>
<circle cx="470.0" cy="399.2" r="2.05" fill="#000"/>
<circle cx="480.3" cy="400.0" r="2.05" fill="#000"/>
<circle cx="490.6" cy="400.6" r="2.05" fill="#000"/>
<circle cx="501.0" cy="401.0" r="2.05" fill="#000"/>
<circle cx="511.3" cy="401.0" r="2.05" fill="#000"/>
<polyline points="304.6,282.4 314.9,295.4 325.3,309.6 335.6,322.5 345.9,334.5 356.3,342.9 366.6,351.7 376.9,361.6 387.3,372.3 397.6,383.5 408.0,394.0 418.3,403.1 428.6,410.5 439.0,416.6 449.3,421.2 459.6,423.7 470.0,426.0 480.3,427.5 490.6,428.1 501.0,428.8 511.3,428.8" fill="none" stroke="#3a3aff" stroke-width="1.1" stroke-linejoin="round"/>
<rect x="303.3" y="281.1" width="2.6" height="2.6" fill="#000" stroke="#1010c0" stroke-width="0.7"/>
<rect x="313.6" y="294.1" width="2.6" height="2.6" fill="#000" stroke="#1010c0" stroke-width="0.7"/>
<rect x="324.0" y="308.3" width="2.6" height="2.6" fill="#000" stroke="#1010c0" stroke-width="0.7"/>
<rect x="334.3" y="321.2" width="2.6" height="2.6" fill="#000" stroke="#1010c0" stroke-width="0.7"/>
<rect x="344.6" y="333.2" width="2.6" height="2.6" fill="#000" stroke="#1010c0" stroke-width="0.7"/>
<rect x="355.0" y="341.6" width="2.6" height="2.6" fill="#000" stroke="#1010c0" stroke-width="0.7"/>
<rect x="365.3" y="350.4" width="2.6" height="2.6" fill="#000" stroke="#1010c0" stroke-width="0.7"/>
<rect x="375.6" y="360.3" width="2.6" height="2.6" fill="#000" stroke="#1010c0" stroke-width="0.7"/>
<rect x="386.0" y="371.0" width="2.6" height="2.6" fill="#000" stroke="#1010c0" stroke-width="0.7"/>
<rect x="396.3" y="382.2" width="2.6" height="2.6" fill="#000" stroke="#1010c0" stroke-width="0.7"/>
<rect x="406.7" y="392.7" width="2.6" height="2.6" fill="#000" stroke="#1010c0" stroke-width="0.7"/>
<rect x="417.0" y="401.8" width="2.6" height="2.6" fill="#000" stroke="#1010c0" stroke-width="0.7"/>
<rect x="427.3" y="409.2" width="2.6" height="2.6" fill="#000" stroke="#1010c0" stroke-width="0.7"/>
<rect x="437.7" y="415.3" width="2.6" height="2.6" fill="#000" stroke="#1010c0" stroke-width="0.7"/>
<rect x="448.0" y="419.9" width="2.6" height="2.6" fill="#000" stroke="#1010c0" stroke-width="0.7"/>
<rect x="458.3" y="422.4" width="2.6" height="2.6" fill="#000" stroke="#1010c0" stroke-width="0.7"/>
<rect x="468.7" y="424.7" width="2.6" height="2.6" fill="#000" stroke="#1010c0" stroke-width="0.7"/>
<rect x="479.0" y="426.2" width="2.6" height="2.6" fill="#000" stroke="#1010c0" stroke-width="0.7"/>
<rect x="489.3" y="426.8" width="2.6" height="2.6" fill="#000" stroke="#1010c0" stroke-width="0.7"/>
<rect x="499.7" y="427.5" width="2.6" height="2.6" fill="#000" stroke="#1010c0" stroke-width="0.7"/>
<rect x="510.0" y="427.5" width="2.6" height="2.6" fill="#000" stroke="#1010c0" stroke-width="0.7"/>
<polyline points="304.6,278.1 314.9,294.6 325.3,306.6 335.6,318.0 345.9,329.1 356.3,338.8 366.6,345.7 376.9,352.0 387.3,356.5 397.6,359.8 408.0,362.5 418.3,364.4 428.6,365.9 439.0,366.7 449.3,367.0 459.6,367.2 470.0,367.0 480.3,366.7 490.6,366.4 501.0,365.9 511.3,365.5" fill="none" stroke="#c83232" stroke-width="1.0" stroke-linejoin="round"/>
<rect x="303.3" y="276.8" width="2.6" height="2.6" fill="#000" stroke="#900000" stroke-width="0.7"/>
<rect x="313.6" y="293.3" width="2.6" height="2.6" fill="#000" stroke="#900000" stroke-width="0.7"/>
<rect x="324.0" y="305.3" width="2.6" height="2.6" fill="#000" stroke="#900000" stroke-width="0.7"/>
<rect x="334.3" y="316.7" width="2.6" height="2.6" fill="#000" stroke="#900000" stroke-width="0.7"/>
<rect x="344.6" y="327.8" width="2.6" height="2.6" fill="#000" stroke="#900000" stroke-width="0.7"/>
<rect x="355.0" y="337.5" width="2.6" height="2.6" fill="#000" stroke="#900000" stroke-width="0.7"/>
<rect x="365.3" y="344.4" width="2.6" height="2.6" fill="#000" stroke="#900000" stroke-width="0.7"/>
<rect x="375.6" y="350.7" width="2.6" height="2.6" fill="#000" stroke="#900000" stroke-width="0.7"/>
<rect x="386.0" y="355.2" width="2.6" height="2.6" fill="#000" stroke="#900000" stroke-width="0.7"/>
<rect x="396.3" y="358.5" width="2.6" height="2.6" fill="#000" stroke="#900000" stroke-width="0.7"/>
<rect x="406.7" y="361.2" width="2.6" height="2.6" fill="#000" stroke="#900000" stroke-width="0.7"/>
<rect x="417.0" y="363.1" width="2.6" height="2.6" fill="#000" stroke="#900000" stroke-width="0.7"/>
<rect x="427.3" y="364.6" width="2.6" height="2.6" fill="#000" stroke="#900000" stroke-width="0.7"/>
<rect x="437.7" y="365.4" width="2.6" height="2.6" fill="#000" stroke="#900000" stroke-width="0.7"/>
<rect x="448.0" y="365.7" width="2.6" height="2.6" fill="#000" stroke="#900000" stroke-width="0.7"/>
<rect x="458.3" y="365.9" width="2.6" height="2.6" fill="#000" stroke="#900000" stroke-width="0.7"/>
<rect x="468.7" y="365.7" width="2.6" height="2.6" fill="#000" stroke="#900000" stroke-width="0.7"/>
<rect x="479.0" y="365.4" width="2.6" height="2.6" fill="#000" stroke="#900000" stroke-width="0.7"/>
<rect x="489.3" y="365.1" width="2.6" height="2.6" fill="#000" stroke="#900000" stroke-width="0.7"/>
<rect x="499.7" y="364.6" width="2.6" height="2.6" fill="#000" stroke="#900000" stroke-width="0.7"/>
<rect x="510.0" y="364.2" width="2.6" height="2.6" fill="#000" stroke="#900000" stroke-width="0.7"/>
<polyline points="304.6,283.0 314.9,295.9 325.3,310.7 335.6,325.2 345.9,336.4 356.3,343.8 366.6,352.0 376.9,361.6 387.3,372.3 397.6,383.5 408.0,394.0 418.3,403.1 428.6,410.5 439.0,416.6 449.3,421.2 459.6,423.7 470.0,426.0 480.3,427.5 490.6,428.1 501.0,428.8 511.3,428.8" fill="none" stroke="#b8b8ff" stroke-width="0.75" stroke-dasharray="3 1.2 0.8 1.2" stroke-linejoin="round"/>
<path d="M302.6 281.5H306.7L304.6 285.2Z" fill="#000" stroke="#1010c0" stroke-width="0.7" stroke-linejoin="round"/>
<path d="M312.9 294.4H317.0L314.9 298.1Z" fill="#000" stroke="#1010c0" stroke-width="0.7" stroke-linejoin="round"/>
<path d="M323.2 309.2H327.3L325.3 312.9Z" fill="#000" stroke="#1010c0" stroke-width="0.7" stroke-linejoin="round"/>
<path d="M333.6 323.7H337.7L335.6 327.4Z" fill="#000" stroke="#1010c0" stroke-width="0.7" stroke-linejoin="round"/>
<path d="M343.9 334.9H348.0L345.9 338.6Z" fill="#000" stroke="#1010c0" stroke-width="0.7" stroke-linejoin="round"/>
<path d="M354.2 342.3H358.3L356.3 346.0Z" fill="#000" stroke="#1010c0" stroke-width="0.7" stroke-linejoin="round"/>
<path d="M364.6 350.5H368.7L366.6 354.2Z" fill="#000" stroke="#1010c0" stroke-width="0.7" stroke-linejoin="round"/>
<path d="M374.9 360.1H379.0L376.9 363.8Z" fill="#000" stroke="#1010c0" stroke-width="0.7" stroke-linejoin="round"/>
<path d="M385.2 370.8H389.3L387.3 374.5Z" fill="#000" stroke="#1010c0" stroke-width="0.7" stroke-linejoin="round"/>
<path d="M395.6 382.0H399.7L397.6 385.7Z" fill="#000" stroke="#1010c0" stroke-width="0.7" stroke-linejoin="round"/>
<path d="M405.9 392.5H410.0L408.0 396.2Z" fill="#000" stroke="#1010c0" stroke-width="0.7" stroke-linejoin="round"/>
<path d="M416.2 401.6H420.3L418.3 405.3Z" fill="#000" stroke="#1010c0" stroke-width="0.7" stroke-linejoin="round"/>
<path d="M426.6 409.0H430.7L428.6 412.7Z" fill="#000" stroke="#1010c0" stroke-width="0.7" stroke-linejoin="round"/>
<path d="M436.9 415.1H441.0L439.0 418.8Z" fill="#000" stroke="#1010c0" stroke-width="0.7" stroke-linejoin="round"/>
<path d="M447.2 419.7H451.3L449.3 423.4Z" fill="#000" stroke="#1010c0" stroke-width="0.7" stroke-linejoin="round"/>
<path d="M457.6 422.2H461.7L459.6 425.9Z" fill="#000" stroke="#1010c0" stroke-width="0.7" stroke-linejoin="round"/>
<path d="M467.9 424.5H472.0L470.0 428.2Z" fill="#000" stroke="#1010c0" stroke-width="0.7" stroke-linejoin="round"/>
<path d="M478.2 426.0H482.3L480.3 429.7Z" fill="#000" stroke="#1010c0" stroke-width="0.7" stroke-linejoin="round"/>
<path d="M488.6 426.6H492.7L490.6 430.3Z" fill="#000" stroke="#1010c0" stroke-width="0.7" stroke-linejoin="round"/>
<path d="M498.9 427.3H503.0L501.0 431.0Z" fill="#000" stroke="#1010c0" stroke-width="0.7" stroke-linejoin="round"/>
<path d="M509.2 427.3H513.4L511.3 431.0Z" fill="#000" stroke="#1010c0" stroke-width="0.7" stroke-linejoin="round"/>
<polyline points="304.6,274.5 314.9,286.8 325.3,296.7 335.6,306.1 345.9,315.5 356.3,322.8 366.6,328.8 376.9,333.4 387.3,336.9 397.6,339.2 408.0,340.5 418.3,341.2 428.6,341.6 439.0,341.5 449.3,341.0 459.6,340.4 470.0,339.5 480.3,338.7 490.6,337.9 501.0,337.1 511.3,335.7" fill="none" stroke="#efb0b0" stroke-width="0.75" stroke-dasharray="3 1.2 0.8 1.2" stroke-linejoin="round"/>
<path d="M302.6 273.0H306.7L304.6 276.7Z" fill="#000" stroke="#900000" stroke-width="0.7" stroke-linejoin="round"/>
<path d="M312.9 285.3H317.0L314.9 289.0Z" fill="#000" stroke="#900000" stroke-width="0.7" stroke-linejoin="round"/>
<path d="M323.2 295.2H327.3L325.3 298.9Z" fill="#000" stroke="#900000" stroke-width="0.7" stroke-linejoin="round"/>
<path d="M333.6 304.6H337.7L335.6 308.3Z" fill="#000" stroke="#900000" stroke-width="0.7" stroke-linejoin="round"/>
<path d="M343.9 314.0H348.0L345.9 317.7Z" fill="#000" stroke="#900000" stroke-width="0.7" stroke-linejoin="round"/>
<path d="M354.2 321.3H358.3L356.3 325.0Z" fill="#000" stroke="#900000" stroke-width="0.7" stroke-linejoin="round"/>
<path d="M364.6 327.3H368.7L366.6 331.0Z" fill="#000" stroke="#900000" stroke-width="0.7" stroke-linejoin="round"/>
<path d="M374.9 331.9H379.0L376.9 335.6Z" fill="#000" stroke="#900000" stroke-width="0.7" stroke-linejoin="round"/>
<path d="M385.2 335.4H389.3L387.3 339.1Z" fill="#000" stroke="#900000" stroke-width="0.7" stroke-linejoin="round"/>
<path d="M395.6 337.7H399.7L397.6 341.4Z" fill="#000" stroke="#900000" stroke-width="0.7" stroke-linejoin="round"/>
<path d="M405.9 339.0H410.0L408.0 342.7Z" fill="#000" stroke="#900000" stroke-width="0.7" stroke-linejoin="round"/>
<path d="M416.2 339.7H420.3L418.3 343.4Z" fill="#000" stroke="#900000" stroke-width="0.7" stroke-linejoin="round"/>
<path d="M426.6 340.1H430.7L428.6 343.8Z" fill="#000" stroke="#900000" stroke-width="0.7" stroke-linejoin="round"/>
<path d="M436.9 340.0H441.0L439.0 343.7Z" fill="#000" stroke="#900000" stroke-width="0.7" stroke-linejoin="round"/>
<path d="M447.2 339.5H451.3L449.3 343.2Z" fill="#000" stroke="#900000" stroke-width="0.7" stroke-linejoin="round"/>
<path d="M457.6 338.9H461.7L459.6 342.6Z" fill="#000" stroke="#900000" stroke-width="0.7" stroke-linejoin="round"/>
<path d="M467.9 338.0H472.0L470.0 341.7Z" fill="#000" stroke="#900000" stroke-width="0.7" stroke-linejoin="round"/>
<path d="M478.2 337.2H482.3L480.3 340.9Z" fill="#000" stroke="#900000" stroke-width="0.7" stroke-linejoin="round"/>
<path d="M488.6 336.4H492.7L490.6 340.1Z" fill="#000" stroke="#900000" stroke-width="0.7" stroke-linejoin="round"/>
<path d="M498.9 335.6H503.0L501.0 339.3Z" fill="#000" stroke="#900000" stroke-width="0.7" stroke-linejoin="round"/>
<path d="M509.2 334.2H513.4L511.3 337.9Z" fill="#000" stroke="#900000" stroke-width="0.7" stroke-linejoin="round"/>
<text x="302.0" y="266.3" font-size="7.6" text-anchor="end" fill="#1c1c1c" textLength="14.7" lengthAdjust="spacingAndGlyphs">4.05</text>
<text x="302.0" y="284.3" font-size="7.6" text-anchor="end" fill="#1c1c1c" textLength="4.2" lengthAdjust="spacingAndGlyphs">4</text>
<text x="302.0" y="302.3" font-size="7.6" text-anchor="end" fill="#1c1c1c" textLength="14.7" lengthAdjust="spacingAndGlyphs">3.95</text>
<text x="302.0" y="320.2" font-size="7.6" text-anchor="end" fill="#1c1c1c" textLength="10.5" lengthAdjust="spacingAndGlyphs">3.9</text>
<text x="302.0" y="338.2" font-size="7.6" text-anchor="end" fill="#1c1c1c" textLength="14.7" lengthAdjust="spacingAndGlyphs">3.85</text>
<text x="302.0" y="356.2" font-size="7.6" text-anchor="end" fill="#1c1c1c" textLength="10.5" lengthAdjust="spacingAndGlyphs">3.8</text>
<text x="302.0" y="374.2" font-size="7.6" text-anchor="end" fill="#1c1c1c" textLength="14.7" lengthAdjust="spacingAndGlyphs">3.75</text>
<text x="302.0" y="392.2" font-size="7.6" text-anchor="end" fill="#1c1c1c" textLength="10.5" lengthAdjust="spacingAndGlyphs">3.7</text>
<text x="302.0" y="410.1" font-size="7.6" text-anchor="end" fill="#1c1c1c" textLength="14.7" lengthAdjust="spacingAndGlyphs">3.65</text>
<text x="302.0" y="428.1" font-size="7.6" text-anchor="end" fill="#1c1c1c" textLength="10.5" lengthAdjust="spacingAndGlyphs">3.6</text>
<text x="302.0" y="446.1" font-size="7.6" text-anchor="end" fill="#1c1c1c" textLength="14.7" lengthAdjust="spacingAndGlyphs">3.55</text>
<text x="304.6" y="452.4" font-size="7.6" text-anchor="middle" fill="#1c1c1c" textLength="4.2" lengthAdjust="spacingAndGlyphs">0</text>
<text x="356.3" y="452.4" font-size="7.6" text-anchor="middle" fill="#1c1c1c" textLength="4.2" lengthAdjust="spacingAndGlyphs">5</text>
<text x="408.0" y="452.4" font-size="7.6" text-anchor="middle" fill="#1c1c1c" textLength="8.4" lengthAdjust="spacingAndGlyphs">10</text>
<text x="459.6" y="452.4" font-size="7.6" text-anchor="middle" fill="#1c1c1c" textLength="8.4" lengthAdjust="spacingAndGlyphs">15</text>
<text x="511.3" y="452.4" font-size="7.6" text-anchor="middle" fill="#1c1c1c" textLength="8.4" lengthAdjust="spacingAndGlyphs">20</text>
<text transform="translate(282.5,354.1) rotate(-90)" font-size="11.2" text-anchor="middle" fill="#1c1c1c" textLength="51.5" lengthAdjust="spacingAndGlyphs">RMS error</text>
<text x="408.0" y="463.8" font-size="10.6" text-anchor="middle" fill="#1c1c1c" textLength="65.6" lengthAdjust="spacingAndGlyphs">FWHM (mm)</text>
</g>
<g>
<line x1="627.9" y1="263.4" x2="627.9" y2="443.2" stroke="#e6e6e6" stroke-width="0.9"/>
<line x1="679.5" y1="263.4" x2="679.5" y2="443.2" stroke="#e6e6e6" stroke-width="0.9"/>
<line x1="731.2" y1="263.4" x2="731.2" y2="443.2" stroke="#e6e6e6" stroke-width="0.9"/>
<line x1="576.2" y1="293.4" x2="782.85" y2="293.4" stroke="#e6e6e6" stroke-width="0.9"/>
<line x1="576.2" y1="323.3" x2="782.85" y2="323.3" stroke="#e6e6e6" stroke-width="0.9"/>
<line x1="576.2" y1="353.3" x2="782.85" y2="353.3" stroke="#e6e6e6" stroke-width="0.9"/>
<line x1="576.2" y1="383.3" x2="782.85" y2="383.3" stroke="#e6e6e6" stroke-width="0.9"/>
<line x1="576.2" y1="413.2" x2="782.85" y2="413.2" stroke="#e6e6e6" stroke-width="0.9"/>
<line x1="576.2" y1="443.2" x2="576.2" y2="441.0" stroke="#666666" stroke-width="0.9"/>
<line x1="576.2" y1="263.4" x2="576.2" y2="265.59999999999997" stroke="#666666" stroke-width="0.9"/>
<line x1="627.9" y1="443.2" x2="627.9" y2="441.0" stroke="#666666" stroke-width="0.9"/>
<line x1="627.9" y1="263.4" x2="627.9" y2="265.59999999999997" stroke="#666666" stroke-width="0.9"/>
<line x1="679.5" y1="443.2" x2="679.5" y2="441.0" stroke="#666666" stroke-width="0.9"/>
<line x1="679.5" y1="263.4" x2="679.5" y2="265.59999999999997" stroke="#666666" stroke-width="0.9"/>
<line x1="731.2" y1="443.2" x2="731.2" y2="441.0" stroke="#666666" stroke-width="0.9"/>
<line x1="731.2" y1="263.4" x2="731.2" y2="265.59999999999997" stroke="#666666" stroke-width="0.9"/>
<line x1="782.9" y1="443.2" x2="782.9" y2="441.0" stroke="#666666" stroke-width="0.9"/>
<line x1="782.9" y1="263.4" x2="782.9" y2="265.59999999999997" stroke="#666666" stroke-width="0.9"/>
<line x1="576.2" y1="263.4" x2="578.4000000000001" y2="263.4" stroke="#666666" stroke-width="0.9"/>
<line x1="782.85" y1="263.4" x2="780.65" y2="263.4" stroke="#666666" stroke-width="0.9"/>
<line x1="576.2" y1="293.4" x2="578.4000000000001" y2="293.4" stroke="#666666" stroke-width="0.9"/>
<line x1="782.85" y1="293.4" x2="780.65" y2="293.4" stroke="#666666" stroke-width="0.9"/>
<line x1="576.2" y1="323.3" x2="578.4000000000001" y2="323.3" stroke="#666666" stroke-width="0.9"/>
<line x1="782.85" y1="323.3" x2="780.65" y2="323.3" stroke="#666666" stroke-width="0.9"/>
<line x1="576.2" y1="353.3" x2="578.4000000000001" y2="353.3" stroke="#666666" stroke-width="0.9"/>
<line x1="782.85" y1="353.3" x2="780.65" y2="353.3" stroke="#666666" stroke-width="0.9"/>
<line x1="576.2" y1="383.3" x2="578.4000000000001" y2="383.3" stroke="#666666" stroke-width="0.9"/>
<line x1="782.85" y1="383.3" x2="780.65" y2="383.3" stroke="#666666" stroke-width="0.9"/>
<line x1="576.2" y1="413.2" x2="578.4000000000001" y2="413.2" stroke="#666666" stroke-width="0.9"/>
<line x1="782.85" y1="413.2" x2="780.65" y2="413.2" stroke="#666666" stroke-width="0.9"/>
<line x1="576.2" y1="443.2" x2="578.4000000000001" y2="443.2" stroke="#666666" stroke-width="0.9"/>
<line x1="782.85" y1="443.2" x2="780.65" y2="443.2" stroke="#666666" stroke-width="0.9"/>
<rect x="576.2" y="263.4" width="206.65" height="179.80" fill="none" stroke="#666666" stroke-width="1.1"/>
<polyline points="576.2,313.2 586.5,307.4 596.9,307.4 607.2,307.6 617.5,308.2 627.9,307.6 638.2,302.8 648.5,295.1 658.9,287.7 669.2,283.0 679.5,278.6 689.9,278.1 700.2,278.2 710.5,278.3 720.9,278.6 731.2,279.1 741.5,280.7 751.9,282.7 762.2,283.5 772.5,284.5 782.9,285.7" fill="none" stroke="#2b2b2b" stroke-width="1.0" stroke-linejoin="round"/>
<circle cx="576.2" cy="313.2" r="2.05" fill="#000"/>
<circle cx="586.5" cy="307.4" r="2.05" fill="#000"/>
<circle cx="596.9" cy="307.4" r="2.05" fill="#000"/>
<circle cx="607.2" cy="307.6" r="2.05" fill="#000"/>
<circle cx="617.5" cy="308.2" r="2.05" fill="#000"/>
<circle cx="627.9" cy="307.6" r="2.05" fill="#000"/>
<circle cx="638.2" cy="302.8" r="2.05" fill="#000"/>
<circle cx="648.5" cy="295.1" r="2.05" fill="#000"/>
<circle cx="658.9" cy="287.7" r="2.05" fill="#000"/>
<circle cx="669.2" cy="283.0" r="2.05" fill="#000"/>
<circle cx="679.5" cy="278.6" r="2.05" fill="#000"/>
<circle cx="689.9" cy="278.1" r="2.05" fill="#000"/>
<circle cx="700.2" cy="278.2" r="2.05" fill="#000"/>
<circle cx="710.5" cy="278.3" r="2.05" fill="#000"/>
<circle cx="720.9" cy="278.6" r="2.05" fill="#000"/>
<circle cx="731.2" cy="279.1" r="2.05" fill="#000"/>
<circle cx="741.5" cy="280.7" r="2.05" fill="#000"/>
<circle cx="751.9" cy="282.7" r="2.05" fill="#000"/>
<circle cx="762.2" cy="283.5" r="2.05" fill="#000"/>
<circle cx="772.5" cy="284.5" r="2.05" fill="#000"/>
<circle cx="782.9" cy="285.7" r="2.05" fill="#000"/>
<polyline points="576.2,329.2 586.5,319.4 596.9,308.7 607.2,320.3 617.5,313.2 627.9,304.1 638.2,297.5 648.5,292.1 658.9,287.3 669.2,275.1 679.5,275.1 689.9,274.8 700.2,274.6 710.5,276.1 720.9,278.9 731.2,281.9 741.5,284.4 751.9,287.7 762.2,292.1 772.5,295.6 782.9,299.2" fill="none" stroke="#3a3aff" stroke-width="1.1" stroke-linejoin="round"/>
<rect x="574.9" y="327.9" width="2.6" height="2.6" fill="#000" stroke="#1010c0" stroke-width="0.7"/>
<rect x="585.2" y="318.1" width="2.6" height="2.6" fill="#000" stroke="#1010c0" stroke-width="0.7"/>
<rect x="595.6" y="307.4" width="2.6" height="2.6" fill="#000" stroke="#1010c0" stroke-width="0.7"/>
<rect x="605.9" y="319.0" width="2.6" height="2.6" fill="#000" stroke="#1010c0" stroke-width="0.7"/>
<rect x="616.2" y="311.9" width="2.6" height="2.6" fill="#000" stroke="#1010c0" stroke-width="0.7"/>
<rect x="626.6" y="302.8" width="2.6" height="2.6" fill="#000" stroke="#1010c0" stroke-width="0.7"/>
<rect x="636.9" y="296.2" width="2.6" height="2.6" fill="#000" stroke="#1010c0" stroke-width="0.7"/>
<rect x="647.2" y="290.8" width="2.6" height="2.6" fill="#000" stroke="#1010c0" stroke-width="0.7"/>
<rect x="657.6" y="286.0" width="2.6" height="2.6" fill="#000" stroke="#1010c0" stroke-width="0.7"/>
<rect x="667.9" y="273.8" width="2.6" height="2.6" fill="#000" stroke="#1010c0" stroke-width="0.7"/>
<rect x="678.2" y="273.8" width="2.6" height="2.6" fill="#000" stroke="#1010c0" stroke-width="0.7"/>
<rect x="688.6" y="273.5" width="2.6" height="2.6" fill="#000" stroke="#1010c0" stroke-width="0.7"/>
<rect x="698.9" y="273.3" width="2.6" height="2.6" fill="#000" stroke="#1010c0" stroke-width="0.7"/>
<rect x="709.2" y="274.8" width="2.6" height="2.6" fill="#000" stroke="#1010c0" stroke-width="0.7"/>
<rect x="719.6" y="277.6" width="2.6" height="2.6" fill="#000" stroke="#1010c0" stroke-width="0.7"/>
<rect x="729.9" y="280.6" width="2.6" height="2.6" fill="#000" stroke="#1010c0" stroke-width="0.7"/>
<rect x="740.2" y="283.1" width="2.6" height="2.6" fill="#000" stroke="#1010c0" stroke-width="0.7"/>
<rect x="750.6" y="286.4" width="2.6" height="2.6" fill="#000" stroke="#1010c0" stroke-width="0.7"/>
<rect x="760.9" y="290.8" width="2.6" height="2.6" fill="#000" stroke="#1010c0" stroke-width="0.7"/>
<rect x="771.2" y="294.3" width="2.6" height="2.6" fill="#000" stroke="#1010c0" stroke-width="0.7"/>
<rect x="781.6" y="297.9" width="2.6" height="2.6" fill="#000" stroke="#1010c0" stroke-width="0.7"/>
<polyline points="576.2,378.5 586.5,357.3 596.9,338.4 607.2,324.2 617.5,312.4 627.9,302.8 638.2,297.2 648.5,292.6 658.9,288.8 669.2,286.8 679.5,285.2 689.9,284.4 700.2,284.4 710.5,285.2 720.9,286.3 731.2,287.7 741.5,288.8 751.9,290.1 762.2,292.1 772.5,293.7 782.9,295.2" fill="none" stroke="#c83232" stroke-width="1.0" stroke-linejoin="round"/>
<rect x="574.9" y="377.2" width="2.6" height="2.6" fill="#000" stroke="#900000" stroke-width="0.7"/>
<rect x="585.2" y="356.0" width="2.6" height="2.6" fill="#000" stroke="#900000" stroke-width="0.7"/>
<rect x="595.6" y="337.1" width="2.6" height="2.6" fill="#000" stroke="#900000" stroke-width="0.7"/>
<rect x="605.9" y="322.9" width="2.6" height="2.6" fill="#000" stroke="#900000" stroke-width="0.7"/>
<rect x="616.2" y="311.1" width="2.6" height="2.6" fill="#000" stroke="#900000" stroke-width="0.7"/>
<rect x="626.6" y="301.5" width="2.6" height="2.6" fill="#000" stroke="#900000" stroke-width="0.7"/>
<rect x="636.9" y="295.9" width="2.6" height="2.6" fill="#000" stroke="#900000" stroke-width="0.7"/>
<rect x="647.2" y="291.3" width="2.6" height="2.6" fill="#000" stroke="#900000" stroke-width="0.7"/>
<rect x="657.6" y="287.5" width="2.6" height="2.6" fill="#000" stroke="#900000" stroke-width="0.7"/>
<rect x="667.9" y="285.5" width="2.6" height="2.6" fill="#000" stroke="#900000" stroke-width="0.7"/>
<rect x="678.2" y="283.9" width="2.6" height="2.6" fill="#000" stroke="#900000" stroke-width="0.7"/>
<rect x="688.6" y="283.1" width="2.6" height="2.6" fill="#000" stroke="#900000" stroke-width="0.7"/>
<rect x="698.9" y="283.1" width="2.6" height="2.6" fill="#000" stroke="#900000" stroke-width="0.7"/>
<rect x="709.2" y="283.9" width="2.6" height="2.6" fill="#000" stroke="#900000" stroke-width="0.7"/>
<rect x="719.6" y="285.0" width="2.6" height="2.6" fill="#000" stroke="#900000" stroke-width="0.7"/>
<rect x="729.9" y="286.4" width="2.6" height="2.6" fill="#000" stroke="#900000" stroke-width="0.7"/>
<rect x="740.2" y="287.5" width="2.6" height="2.6" fill="#000" stroke="#900000" stroke-width="0.7"/>
<rect x="750.6" y="288.8" width="2.6" height="2.6" fill="#000" stroke="#900000" stroke-width="0.7"/>
<rect x="760.9" y="290.8" width="2.6" height="2.6" fill="#000" stroke="#900000" stroke-width="0.7"/>
<rect x="771.2" y="292.4" width="2.6" height="2.6" fill="#000" stroke="#900000" stroke-width="0.7"/>
<rect x="781.6" y="293.9" width="2.6" height="2.6" fill="#000" stroke="#900000" stroke-width="0.7"/>
<polyline points="576.2,345.5 586.5,340.0 596.9,330.8 607.2,321.4 617.5,313.7 627.9,305.4 638.2,297.9 648.5,292.6 658.9,288.5 669.2,288.0 679.5,290.6 689.9,292.6 700.2,289.6 710.5,291.8 720.9,294.6 731.2,296.7 741.5,299.2 751.9,301.2 762.2,303.6 772.5,306.1 782.9,309.1" fill="none" stroke="#b8b8ff" stroke-width="0.75" stroke-dasharray="3 1.2 0.8 1.2" stroke-linejoin="round"/>
<path d="M574.2 344.0H578.2L576.2 347.7Z" fill="#000" stroke="#1010c0" stroke-width="0.7" stroke-linejoin="round"/>
<path d="M584.5 338.5H588.6L586.5 342.2Z" fill="#000" stroke="#1010c0" stroke-width="0.7" stroke-linejoin="round"/>
<path d="M594.8 329.3H598.9L596.9 333.0Z" fill="#000" stroke="#1010c0" stroke-width="0.7" stroke-linejoin="round"/>
<path d="M605.1 319.9H609.2L607.2 323.6Z" fill="#000" stroke="#1010c0" stroke-width="0.7" stroke-linejoin="round"/>
<path d="M615.5 312.2H619.6L617.5 315.9Z" fill="#000" stroke="#1010c0" stroke-width="0.7" stroke-linejoin="round"/>
<path d="M625.8 303.9H629.9L627.9 307.6Z" fill="#000" stroke="#1010c0" stroke-width="0.7" stroke-linejoin="round"/>
<path d="M636.1 296.4H640.2L638.2 300.1Z" fill="#000" stroke="#1010c0" stroke-width="0.7" stroke-linejoin="round"/>
<path d="M646.5 291.1H650.6L648.5 294.8Z" fill="#000" stroke="#1010c0" stroke-width="0.7" stroke-linejoin="round"/>
<path d="M656.8 287.0H660.9L658.9 290.7Z" fill="#000" stroke="#1010c0" stroke-width="0.7" stroke-linejoin="round"/>
<path d="M667.1 286.5H671.2L669.2 290.2Z" fill="#000" stroke="#1010c0" stroke-width="0.7" stroke-linejoin="round"/>
<path d="M677.5 289.1H681.6L679.5 292.8Z" fill="#000" stroke="#1010c0" stroke-width="0.7" stroke-linejoin="round"/>
<path d="M687.8 291.1H691.9L689.9 294.8Z" fill="#000" stroke="#1010c0" stroke-width="0.7" stroke-linejoin="round"/>
<path d="M698.1 288.1H702.2L700.2 291.8Z" fill="#000" stroke="#1010c0" stroke-width="0.7" stroke-linejoin="round"/>
<path d="M708.5 290.3H712.6L710.5 294.0Z" fill="#000" stroke="#1010c0" stroke-width="0.7" stroke-linejoin="round"/>
<path d="M718.8 293.1H722.9L720.9 296.8Z" fill="#000" stroke="#1010c0" stroke-width="0.7" stroke-linejoin="round"/>
<path d="M729.1 295.2H733.2L731.2 298.9Z" fill="#000" stroke="#1010c0" stroke-width="0.7" stroke-linejoin="round"/>
<path d="M739.5 297.7H743.6L741.5 301.4Z" fill="#000" stroke="#1010c0" stroke-width="0.7" stroke-linejoin="round"/>
<path d="M749.8 299.7H753.9L751.9 303.4Z" fill="#000" stroke="#1010c0" stroke-width="0.7" stroke-linejoin="round"/>
<path d="M760.1 302.1H764.2L762.2 305.8Z" fill="#000" stroke="#1010c0" stroke-width="0.7" stroke-linejoin="round"/>
<path d="M770.5 304.6H774.6L772.5 308.3Z" fill="#000" stroke="#1010c0" stroke-width="0.7" stroke-linejoin="round"/>
<path d="M780.8 307.6H784.9L782.9 311.3Z" fill="#000" stroke="#1010c0" stroke-width="0.7" stroke-linejoin="round"/>
<polyline points="576.2,429.4 586.5,389.7 596.9,363.6 607.2,347.5 617.5,336.0 627.9,330.4 638.2,327.0 648.5,324.2 658.9,320.7 669.2,317.6 679.5,315.4 689.9,315.7 700.2,315.2 710.5,314.8 720.9,315.7 731.2,316.8 741.5,318.1 751.9,319.8 762.2,321.8 772.5,324.2 782.9,326.5" fill="none" stroke="#efb0b0" stroke-width="0.75" stroke-dasharray="3 1.2 0.8 1.2" stroke-linejoin="round"/>
<path d="M574.2 427.9H578.2L576.2 431.6Z" fill="#000" stroke="#900000" stroke-width="0.7" stroke-linejoin="round"/>
<path d="M584.5 388.2H588.6L586.5 391.9Z" fill="#000" stroke="#900000" stroke-width="0.7" stroke-linejoin="round"/>
<path d="M594.8 362.1H598.9L596.9 365.8Z" fill="#000" stroke="#900000" stroke-width="0.7" stroke-linejoin="round"/>
<path d="M605.1 346.0H609.2L607.2 349.7Z" fill="#000" stroke="#900000" stroke-width="0.7" stroke-linejoin="round"/>
<path d="M615.5 334.5H619.6L617.5 338.2Z" fill="#000" stroke="#900000" stroke-width="0.7" stroke-linejoin="round"/>
<path d="M625.8 328.9H629.9L627.9 332.6Z" fill="#000" stroke="#900000" stroke-width="0.7" stroke-linejoin="round"/>
<path d="M636.1 325.5H640.2L638.2 329.2Z" fill="#000" stroke="#900000" stroke-width="0.7" stroke-linejoin="round"/>
<path d="M646.5 322.7H650.6L648.5 326.4Z" fill="#000" stroke="#900000" stroke-width="0.7" stroke-linejoin="round"/>
<path d="M656.8 319.2H660.9L658.9 322.9Z" fill="#000" stroke="#900000" stroke-width="0.7" stroke-linejoin="round"/>
<path d="M667.1 316.1H671.2L669.2 319.8Z" fill="#000" stroke="#900000" stroke-width="0.7" stroke-linejoin="round"/>
<path d="M677.5 313.9H681.6L679.5 317.6Z" fill="#000" stroke="#900000" stroke-width="0.7" stroke-linejoin="round"/>
<path d="M687.8 314.2H691.9L689.9 317.9Z" fill="#000" stroke="#900000" stroke-width="0.7" stroke-linejoin="round"/>
<path d="M698.1 313.7H702.2L700.2 317.4Z" fill="#000" stroke="#900000" stroke-width="0.7" stroke-linejoin="round"/>
<path d="M708.5 313.3H712.6L710.5 317.0Z" fill="#000" stroke="#900000" stroke-width="0.7" stroke-linejoin="round"/>
<path d="M718.8 314.2H722.9L720.9 317.9Z" fill="#000" stroke="#900000" stroke-width="0.7" stroke-linejoin="round"/>
<path d="M729.1 315.3H733.2L731.2 319.0Z" fill="#000" stroke="#900000" stroke-width="0.7" stroke-linejoin="round"/>
<path d="M739.5 316.6H743.6L741.5 320.3Z" fill="#000" stroke="#900000" stroke-width="0.7" stroke-linejoin="round"/>
<path d="M749.8 318.3H753.9L751.9 322.0Z" fill="#000" stroke="#900000" stroke-width="0.7" stroke-linejoin="round"/>
<path d="M760.1 320.3H764.2L762.2 324.0Z" fill="#000" stroke="#900000" stroke-width="0.7" stroke-linejoin="round"/>
<path d="M770.5 322.7H774.6L772.5 326.4Z" fill="#000" stroke="#900000" stroke-width="0.7" stroke-linejoin="round"/>
<path d="M780.8 325.0H784.9L782.9 328.7Z" fill="#000" stroke="#900000" stroke-width="0.7" stroke-linejoin="round"/>
<text x="573.6" y="266.3" font-size="7.6" text-anchor="end" fill="#1c1c1c" textLength="14.7" lengthAdjust="spacingAndGlyphs">0.98</text>
<text x="573.6" y="296.3" font-size="7.6" text-anchor="end" fill="#1c1c1c" textLength="14.7" lengthAdjust="spacingAndGlyphs">0.97</text>
<text x="573.6" y="326.2" font-size="7.6" text-anchor="end" fill="#1c1c1c" textLength="14.7" lengthAdjust="spacingAndGlyphs">0.96</text>
<text x="573.6" y="356.2" font-size="7.6" text-anchor="end" fill="#1c1c1c" textLength="14.7" lengthAdjust="spacingAndGlyphs">0.95</text>
<text x="573.6" y="386.2" font-size="7.6" text-anchor="end" fill="#1c1c1c" textLength="14.7" lengthAdjust="spacingAndGlyphs">0.94</text>
<text x="573.6" y="416.1" font-size="7.6" text-anchor="end" fill="#1c1c1c" textLength="14.7" lengthAdjust="spacingAndGlyphs">0.93</text>
<text x="573.6" y="446.1" font-size="7.6" text-anchor="end" fill="#1c1c1c" textLength="14.7" lengthAdjust="spacingAndGlyphs">0.92</text>
<text x="576.2" y="452.4" font-size="7.6" text-anchor="middle" fill="#1c1c1c" textLength="4.2" lengthAdjust="spacingAndGlyphs">0</text>
<text x="627.9" y="452.4" font-size="7.6" text-anchor="middle" fill="#1c1c1c" textLength="4.2" lengthAdjust="spacingAndGlyphs">5</text>
<text x="679.5" y="452.4" font-size="7.6" text-anchor="middle" fill="#1c1c1c" textLength="8.4" lengthAdjust="spacingAndGlyphs">10</text>
<text x="731.2" y="452.4" font-size="7.6" text-anchor="middle" fill="#1c1c1c" textLength="8.4" lengthAdjust="spacingAndGlyphs">15</text>
<text x="782.9" y="452.4" font-size="7.6" text-anchor="middle" fill="#1c1c1c" textLength="8.4" lengthAdjust="spacingAndGlyphs">20</text>
<text transform="translate(554.2,353.3) rotate(-90)" font-size="11.2" text-anchor="middle" fill="#1c1c1c" textLength="22.2" lengthAdjust="spacingAndGlyphs">AUC</text>
<text x="679.5" y="463.8" font-size="10.6" text-anchor="middle" fill="#1c1c1c" textLength="65.6" lengthAdjust="spacingAndGlyphs">FWHM (mm)</text>
</g>
<rect x="626.9" y="389.6" width="109.7" height="46.4" fill="#fff" stroke="#3a3a3a" stroke-width="1"/>
<line x1="631" y1="394.9" x2="651.2" y2="394.9" stroke="#555" stroke-width="0.9"/>
<circle cx="641.2" cy="394.9" r="2.05" fill="#000"/>
<text x="653.4" y="397.5" font-size="7.4" fill="#000" textLength="79.0" lengthAdjust="spacingAndGlyphs">ScalMom &amp; Divergence</text>
<line x1="631" y1="403.8" x2="651.2" y2="403.8" stroke="#6060ff" stroke-width="0.9"/>
<rect x="639.9" y="402.5" width="2.6" height="2.6" fill="#000" stroke="#1010c0" stroke-width="0.7"/>
<text x="653.4" y="406.4" font-size="7.4" fill="#000" textLength="80.3" lengthAdjust="spacingAndGlyphs">GM, WM &amp; BG (no mod)</text>
<line x1="631" y1="412.7" x2="651.2" y2="412.7" stroke="#d04848" stroke-width="0.9"/>
<rect x="639.9" y="411.4" width="2.6" height="2.6" fill="#000" stroke="#900000" stroke-width="0.7"/>
<text x="653.4" y="415.3" font-size="7.4" fill="#000" textLength="69.7" lengthAdjust="spacingAndGlyphs">GM, WM &amp; BG (mod)</text>
<line x1="631" y1="421.7" x2="651.2" y2="421.7" stroke="#ccccff" stroke-width="0.75" stroke-dasharray="3 1.2 0.8 1.2"/>
<path d="M639.2 420.2H643.2L641.2 423.9Z" fill="#000" stroke="#1010c0" stroke-width="0.7" stroke-linejoin="round"/>
<text x="653.4" y="424.3" font-size="7.4" fill="#000" textLength="65.9" lengthAdjust="spacingAndGlyphs">GM &amp; WM (no mod)</text>
<line x1="631" y1="430.6" x2="651.2" y2="430.6" stroke="#f4c8c8" stroke-width="0.75" stroke-dasharray="3 1.2 0.8 1.2"/>
<path d="M639.2 429.1H643.2L641.2 432.8Z" fill="#000" stroke="#900000" stroke-width="0.7" stroke-linejoin="round"/>
<text x="653.4" y="433.2" font-size="7.4" fill="#000" textLength="55.5" lengthAdjust="spacingAndGlyphs">GM &amp; WM (mod)</text>
</svg></body></html>
